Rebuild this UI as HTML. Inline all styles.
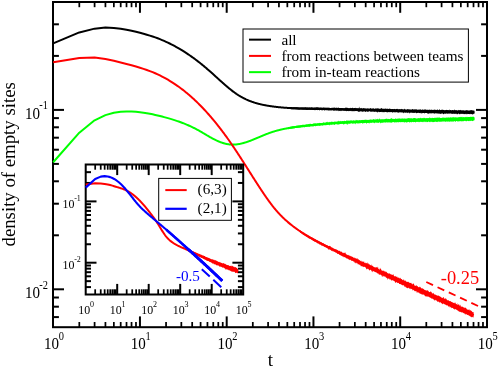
<!DOCTYPE html>
<html><head><meta charset="utf-8"><title>chart</title><style>html,body{margin:0;padding:0;background:#fff}body{width:498px;height:368px;overflow:hidden}</style></head><body>
<svg width="498" height="368" viewBox="0 0 498 368" style="display:block;will-change:transform;font-family:'Liberation Serif',serif">
<rect width="498" height="368" fill="#fff"/>
<defs><clipPath id="cm"><rect x="53.0" y="2.0" width="434.0" height="325.2"/></clipPath><clipPath id="ci"><rect x="85.7" y="164.5" width="157.5" height="130.0"/></clipPath></defs>
<rect x="53" y="2" width="434" height="325.2" fill="#fff" stroke="#000" stroke-width="2"/>
<line x1="79.31" y1="327.2" x2="79.31" y2="322" stroke="#000" stroke-width="1.74" />
<line x1="79.31" y1="2" x2="79.31" y2="7.2" stroke="#000" stroke-width="1.74" />
<line x1="94.59" y1="327.2" x2="94.59" y2="322" stroke="#000" stroke-width="1.74" />
<line x1="94.59" y1="2" x2="94.59" y2="7.2" stroke="#000" stroke-width="1.74" />
<line x1="105.43" y1="327.2" x2="105.43" y2="322" stroke="#000" stroke-width="1.74" />
<line x1="105.43" y1="2" x2="105.43" y2="7.2" stroke="#000" stroke-width="1.74" />
<line x1="113.84" y1="327.2" x2="113.84" y2="322" stroke="#000" stroke-width="1.74" />
<line x1="113.84" y1="2" x2="113.84" y2="7.2" stroke="#000" stroke-width="1.74" />
<line x1="120.7" y1="327.2" x2="120.7" y2="322" stroke="#000" stroke-width="1.74" />
<line x1="120.7" y1="2" x2="120.7" y2="7.2" stroke="#000" stroke-width="1.74" />
<line x1="126.51" y1="327.2" x2="126.51" y2="322" stroke="#000" stroke-width="1.74" />
<line x1="126.51" y1="2" x2="126.51" y2="7.2" stroke="#000" stroke-width="1.74" />
<line x1="131.54" y1="327.2" x2="131.54" y2="322" stroke="#000" stroke-width="1.74" />
<line x1="131.54" y1="2" x2="131.54" y2="7.2" stroke="#000" stroke-width="1.74" />
<line x1="135.98" y1="327.2" x2="135.98" y2="322" stroke="#000" stroke-width="1.74" />
<line x1="135.98" y1="2" x2="135.98" y2="7.2" stroke="#000" stroke-width="1.74" />
<line x1="139.95" y1="327.2" x2="139.95" y2="316.4" stroke="#000" stroke-width="2" />
<line x1="139.95" y1="2" x2="139.95" y2="12.8" stroke="#000" stroke-width="2" />
<line x1="166.06" y1="327.2" x2="166.06" y2="322" stroke="#000" stroke-width="1.74" />
<line x1="166.06" y1="2" x2="166.06" y2="7.2" stroke="#000" stroke-width="1.74" />
<line x1="181.34" y1="327.2" x2="181.34" y2="322" stroke="#000" stroke-width="1.74" />
<line x1="181.34" y1="2" x2="181.34" y2="7.2" stroke="#000" stroke-width="1.74" />
<line x1="192.18" y1="327.2" x2="192.18" y2="322" stroke="#000" stroke-width="1.74" />
<line x1="192.18" y1="2" x2="192.18" y2="7.2" stroke="#000" stroke-width="1.74" />
<line x1="200.59" y1="327.2" x2="200.59" y2="322" stroke="#000" stroke-width="1.74" />
<line x1="200.59" y1="2" x2="200.59" y2="7.2" stroke="#000" stroke-width="1.74" />
<line x1="207.45" y1="327.2" x2="207.45" y2="322" stroke="#000" stroke-width="1.74" />
<line x1="207.45" y1="2" x2="207.45" y2="7.2" stroke="#000" stroke-width="1.74" />
<line x1="213.26" y1="327.2" x2="213.26" y2="322" stroke="#000" stroke-width="1.74" />
<line x1="213.26" y1="2" x2="213.26" y2="7.2" stroke="#000" stroke-width="1.74" />
<line x1="218.29" y1="327.2" x2="218.29" y2="322" stroke="#000" stroke-width="1.74" />
<line x1="218.29" y1="2" x2="218.29" y2="7.2" stroke="#000" stroke-width="1.74" />
<line x1="222.73" y1="327.2" x2="222.73" y2="322" stroke="#000" stroke-width="1.74" />
<line x1="222.73" y1="2" x2="222.73" y2="7.2" stroke="#000" stroke-width="1.74" />
<line x1="226.7" y1="327.2" x2="226.7" y2="316.4" stroke="#000" stroke-width="2" />
<line x1="226.7" y1="2" x2="226.7" y2="12.8" stroke="#000" stroke-width="2" />
<line x1="252.81" y1="327.2" x2="252.81" y2="322" stroke="#000" stroke-width="1.74" />
<line x1="252.81" y1="2" x2="252.81" y2="7.2" stroke="#000" stroke-width="1.74" />
<line x1="268.09" y1="327.2" x2="268.09" y2="322" stroke="#000" stroke-width="1.74" />
<line x1="268.09" y1="2" x2="268.09" y2="7.2" stroke="#000" stroke-width="1.74" />
<line x1="278.93" y1="327.2" x2="278.93" y2="322" stroke="#000" stroke-width="1.74" />
<line x1="278.93" y1="2" x2="278.93" y2="7.2" stroke="#000" stroke-width="1.74" />
<line x1="287.34" y1="327.2" x2="287.34" y2="322" stroke="#000" stroke-width="1.74" />
<line x1="287.34" y1="2" x2="287.34" y2="7.2" stroke="#000" stroke-width="1.74" />
<line x1="294.2" y1="327.2" x2="294.2" y2="322" stroke="#000" stroke-width="1.74" />
<line x1="294.2" y1="2" x2="294.2" y2="7.2" stroke="#000" stroke-width="1.74" />
<line x1="300.01" y1="327.2" x2="300.01" y2="322" stroke="#000" stroke-width="1.74" />
<line x1="300.01" y1="2" x2="300.01" y2="7.2" stroke="#000" stroke-width="1.74" />
<line x1="305.04" y1="327.2" x2="305.04" y2="322" stroke="#000" stroke-width="1.74" />
<line x1="305.04" y1="2" x2="305.04" y2="7.2" stroke="#000" stroke-width="1.74" />
<line x1="309.48" y1="327.2" x2="309.48" y2="322" stroke="#000" stroke-width="1.74" />
<line x1="309.48" y1="2" x2="309.48" y2="7.2" stroke="#000" stroke-width="1.74" />
<line x1="313.45" y1="327.2" x2="313.45" y2="316.4" stroke="#000" stroke-width="2" />
<line x1="313.45" y1="2" x2="313.45" y2="12.8" stroke="#000" stroke-width="2" />
<line x1="339.56" y1="327.2" x2="339.56" y2="322" stroke="#000" stroke-width="1.74" />
<line x1="339.56" y1="2" x2="339.56" y2="7.2" stroke="#000" stroke-width="1.74" />
<line x1="354.84" y1="327.2" x2="354.84" y2="322" stroke="#000" stroke-width="1.74" />
<line x1="354.84" y1="2" x2="354.84" y2="7.2" stroke="#000" stroke-width="1.74" />
<line x1="365.68" y1="327.2" x2="365.68" y2="322" stroke="#000" stroke-width="1.74" />
<line x1="365.68" y1="2" x2="365.68" y2="7.2" stroke="#000" stroke-width="1.74" />
<line x1="374.09" y1="327.2" x2="374.09" y2="322" stroke="#000" stroke-width="1.74" />
<line x1="374.09" y1="2" x2="374.09" y2="7.2" stroke="#000" stroke-width="1.74" />
<line x1="380.95" y1="327.2" x2="380.95" y2="322" stroke="#000" stroke-width="1.74" />
<line x1="380.95" y1="2" x2="380.95" y2="7.2" stroke="#000" stroke-width="1.74" />
<line x1="386.76" y1="327.2" x2="386.76" y2="322" stroke="#000" stroke-width="1.74" />
<line x1="386.76" y1="2" x2="386.76" y2="7.2" stroke="#000" stroke-width="1.74" />
<line x1="391.79" y1="327.2" x2="391.79" y2="322" stroke="#000" stroke-width="1.74" />
<line x1="391.79" y1="2" x2="391.79" y2="7.2" stroke="#000" stroke-width="1.74" />
<line x1="396.23" y1="327.2" x2="396.23" y2="322" stroke="#000" stroke-width="1.74" />
<line x1="396.23" y1="2" x2="396.23" y2="7.2" stroke="#000" stroke-width="1.74" />
<line x1="400.2" y1="327.2" x2="400.2" y2="316.4" stroke="#000" stroke-width="2" />
<line x1="400.2" y1="2" x2="400.2" y2="12.8" stroke="#000" stroke-width="2" />
<line x1="426.31" y1="327.2" x2="426.31" y2="322" stroke="#000" stroke-width="1.74" />
<line x1="426.31" y1="2" x2="426.31" y2="7.2" stroke="#000" stroke-width="1.74" />
<line x1="441.59" y1="327.2" x2="441.59" y2="322" stroke="#000" stroke-width="1.74" />
<line x1="441.59" y1="2" x2="441.59" y2="7.2" stroke="#000" stroke-width="1.74" />
<line x1="452.43" y1="327.2" x2="452.43" y2="322" stroke="#000" stroke-width="1.74" />
<line x1="452.43" y1="2" x2="452.43" y2="7.2" stroke="#000" stroke-width="1.74" />
<line x1="460.84" y1="327.2" x2="460.84" y2="322" stroke="#000" stroke-width="1.74" />
<line x1="460.84" y1="2" x2="460.84" y2="7.2" stroke="#000" stroke-width="1.74" />
<line x1="467.7" y1="327.2" x2="467.7" y2="322" stroke="#000" stroke-width="1.74" />
<line x1="467.7" y1="2" x2="467.7" y2="7.2" stroke="#000" stroke-width="1.74" />
<line x1="473.51" y1="327.2" x2="473.51" y2="322" stroke="#000" stroke-width="1.74" />
<line x1="473.51" y1="2" x2="473.51" y2="7.2" stroke="#000" stroke-width="1.74" />
<line x1="478.54" y1="327.2" x2="478.54" y2="322" stroke="#000" stroke-width="1.74" />
<line x1="478.54" y1="2" x2="478.54" y2="7.2" stroke="#000" stroke-width="1.74" />
<line x1="482.98" y1="327.2" x2="482.98" y2="322" stroke="#000" stroke-width="1.74" />
<line x1="482.98" y1="2" x2="482.98" y2="7.2" stroke="#000" stroke-width="1.74" />
<line x1="53" y1="317.09" x2="58.9" y2="317.09" stroke="#000" stroke-width="2" />
<line x1="487" y1="317.09" x2="481.1" y2="317.09" stroke="#000" stroke-width="2" />
<line x1="53" y1="306.69" x2="58.9" y2="306.69" stroke="#000" stroke-width="2" />
<line x1="487" y1="306.69" x2="481.1" y2="306.69" stroke="#000" stroke-width="2" />
<line x1="53" y1="297.51" x2="58.9" y2="297.51" stroke="#000" stroke-width="2" />
<line x1="487" y1="297.51" x2="481.1" y2="297.51" stroke="#000" stroke-width="2" />
<line x1="53" y1="289.3" x2="64" y2="289.3" stroke="#000" stroke-width="2" />
<line x1="487" y1="289.3" x2="476" y2="289.3" stroke="#000" stroke-width="2" />
<line x1="53" y1="235.3" x2="58.9" y2="235.3" stroke="#000" stroke-width="2" />
<line x1="487" y1="235.3" x2="481.1" y2="235.3" stroke="#000" stroke-width="2" />
<line x1="53" y1="203.7" x2="58.9" y2="203.7" stroke="#000" stroke-width="2" />
<line x1="487" y1="203.7" x2="481.1" y2="203.7" stroke="#000" stroke-width="2" />
<line x1="53" y1="181.29" x2="58.9" y2="181.29" stroke="#000" stroke-width="2" />
<line x1="487" y1="181.29" x2="481.1" y2="181.29" stroke="#000" stroke-width="2" />
<line x1="53" y1="163.9" x2="58.9" y2="163.9" stroke="#000" stroke-width="2" />
<line x1="487" y1="163.9" x2="481.1" y2="163.9" stroke="#000" stroke-width="2" />
<line x1="53" y1="149.7" x2="58.9" y2="149.7" stroke="#000" stroke-width="2" />
<line x1="487" y1="149.7" x2="481.1" y2="149.7" stroke="#000" stroke-width="2" />
<line x1="53" y1="137.69" x2="58.9" y2="137.69" stroke="#000" stroke-width="2" />
<line x1="487" y1="137.69" x2="481.1" y2="137.69" stroke="#000" stroke-width="2" />
<line x1="53" y1="127.29" x2="58.9" y2="127.29" stroke="#000" stroke-width="2" />
<line x1="487" y1="127.29" x2="481.1" y2="127.29" stroke="#000" stroke-width="2" />
<line x1="53" y1="118.11" x2="58.9" y2="118.11" stroke="#000" stroke-width="2" />
<line x1="487" y1="118.11" x2="481.1" y2="118.11" stroke="#000" stroke-width="2" />
<line x1="53" y1="109.9" x2="64" y2="109.9" stroke="#000" stroke-width="2" />
<line x1="487" y1="109.9" x2="476" y2="109.9" stroke="#000" stroke-width="2" />
<line x1="53" y1="55.9" x2="58.9" y2="55.9" stroke="#000" stroke-width="2" />
<line x1="487" y1="55.9" x2="481.1" y2="55.9" stroke="#000" stroke-width="2" />
<line x1="53" y1="24.3" x2="58.9" y2="24.3" stroke="#000" stroke-width="2" />
<line x1="487" y1="24.3" x2="481.1" y2="24.3" stroke="#000" stroke-width="2" />
<path d="M53.2,162.27 L79.31,132.66 L94.59,120.28 L105.43,115.1 L113.84,112.84 L120.7,111.85 L126.51,111.51 L131.54,111.54 L135.98,111.81 L139.95,112.2 L143.54,112.69 L146.82,113.22 L149.83,113.78 L152.63,114.34 L155.23,114.92 L157.66,115.48 L159.94,116.04 L162.09,116.59 L164.13,117.12 L166.06,117.64 L167.9,118.15 L169.66,118.65 L171.33,119.15 L172.93,119.64 L174.47,120.12 L175.95,120.6 L177.37,121.08 L178.74,121.55 L180.06,122.02 L181.34,122.49 L182.58,122.96 L183.77,123.42 L184.93,123.89 L186.06,124.35 L187.15,124.81 L188.21,125.27 L189.24,125.72 L190.25,126.18 L191.22,126.63 L192.18,127.09 L193.11,127.54 L194.02,127.99 L194.9,128.44 L195.77,128.89 L196.62,129.34 L197.44,129.78 L198.25,130.23 L199.05,130.67 L199.82,131.11 L200.59,131.55 L201.33,131.98 L202.06,132.41 L202.78,132.84 L203.49,133.25 L204.18,133.67 L204.86,134.07 L205.52,134.47 L206.18,134.86 L206.82,135.24 L207.45,135.61 L208.08,135.98 L208.69,136.34 L209.29,136.69 L209.89,137.03 L210.47,137.36 L211.05,137.68 L211.61,137.99 L212.17,138.3 L212.72,138.6 L213.26,138.88 L213.8,139.16 L214.32,139.43 L214.84,139.69 L215.36,139.95 L215.86,140.19 L216.36,140.43 L216.85,140.65 L217.34,140.87 L217.82,141.09 L218.29,141.29 L218.76,141.49 L219.22,141.68 L219.68,141.86 L220.13,142.04 L220.58,142.2 L221.02,142.37 L221.45,142.52 L221.88,142.67 L222.31,142.81 L222.73,142.95 L223.15,143.08 L223.56,143.2 L223.97,143.32 L224.37,143.43 L224.77,143.53 L225.16,143.63 L225.55,143.73 L225.94,143.82 L226.32,143.9 L226.7,143.98 L227.07,144.05 L227.45,144.12 L227.81,144.19 L228.18,144.24 L228.54,144.3 L228.9,144.35 L229.25,144.39 L229.6,144.43 L229.95,144.47 L230.29,144.5 L230.63,144.53 L230.97,144.55 L231.3,144.57 L231.64,144.58 L231.97,144.59 L232.29,144.6 L232.62,144.6 L232.94,144.6 L233.25,144.6 L233.57,144.59 L233.88,144.58 L234.19,144.57 L234.5,144.56 L234.8,144.54 L235.11,144.52 L235.41,144.5 L235.71,144.47 L236.01,144.44 L236.31,144.41 L236.61,144.38 L236.91,144.34 L237.21,144.31 L237.51,144.27 L237.81,144.22 L238.11,144.18 L238.41,144.13 L238.71,144.08 L239.01,144.03 L239.31,143.98 L239.61,143.92 L239.91,143.86 L240.21,143.8 L240.51,143.74 L240.81,143.67 L241.11,143.61 L241.41,143.54 L241.71,143.47 L242.01,143.39 L242.31,143.32 L242.61,143.24 L242.91,143.16 L243.21,143.08 L243.51,143 L243.81,142.92 L244.11,142.83 L244.41,142.75 L244.71,142.66 L245.01,142.57 L245.31,142.48 L245.61,142.38 L245.91,142.29 L246.21,142.19 L246.51,142.1 L246.81,142 L247.11,141.9 L247.41,141.79 L247.71,141.69 L248.01,141.59 L248.31,141.48 L248.61,141.38 L248.91,141.27 L249.21,141.16 L249.51,141.05 L249.81,140.94 L250.11,140.83 L250.41,140.71 L250.71,140.6 L251.01,140.48 L251.31,140.37 L251.61,140.25 L251.91,140.13 L252.21,140.02 L252.51,139.9 L252.81,139.78 L253.11,139.66 L253.41,139.53 L253.71,139.41 L254.01,139.29 L254.31,139.17 L254.61,139.04 L254.91,138.92 L255.21,138.8 L255.51,138.67 L255.81,138.54 L256.11,138.42 L256.41,138.29 L256.71,138.17 L257.01,138.04 L257.31,137.91 L257.61,137.79 L257.91,137.66 L258.21,137.53 L258.51,137.4 L258.81,137.28 L259.11,137.15 L259.41,137.02 L259.71,136.89 L260.01,136.77 L260.31,136.64 L260.61,136.51 L260.91,136.38 L261.21,136.26 L261.51,136.13 L261.81,136 L262.11,135.88 L262.41,135.75 L262.71,135.63 L263.01,135.5 L263.31,135.38 L263.61,135.25 L263.91,135.13 L264.21,135.01 L264.51,134.88 L264.81,134.76 L265.11,134.64 L265.41,134.52 L265.71,134.4 L266.01,134.28 L266.31,134.16 L266.61,134.04 L266.91,133.93 L267.21,133.81 L267.51,133.69 L267.81,133.58 L268.11,133.47 L268.41,133.35 L268.71,133.24 L269.01,133.13 L269.31,133.02 L269.61,132.91 L269.91,132.81 L270.21,132.7 L270.51,132.6 L270.81,132.49 L271.11,132.39 L271.41,132.29 L271.71,132.19 L272.01,132.09 L272.31,131.99 L272.61,131.9 L272.91,131.8 L273.21,131.71 L273.51,131.61 L273.81,131.52 L274.11,131.43 L274.41,131.34 L274.71,131.25 L275.01,131.16 L275.31,131.07 L275.61,130.99 L275.91,130.9 L276.21,130.82 L276.51,130.73 L276.81,130.65 L277.11,130.57 L277.41,130.49 L277.71,130.41 L278.01,130.33 L278.31,130.25 L278.61,130.18 L278.91,130.1 L279.21,130.02 L279.51,129.95 L279.81,129.88 L280.11,129.8 L280.41,129.73 L280.71,129.66 L281.01,129.59 L281.31,129.52 L281.61,129.45 L281.91,129.39 L282.21,129.32 L282.51,129.25 L282.81,129.19 L283.11,129.12 L283.41,129.06 L283.71,129 L284.01,128.93 L284.31,128.87 L284.61,128.81 L284.91,128.75 L285.21,128.69 L285.51,128.63 L285.81,128.58 L286.11,128.52 L286.41,128.46 L286.71,128.41 L287.01,128.35 L287.31,128.3 L287.61,128.24 L287.91,128.19 L288.21,128.14 L288.51,128.08 L288.81,128.03 L289.11,127.98 L289.41,127.93 L289.71,127.88 L290.01,127.83 L290.31,127.78 L290.61,127.73 L290.91,127.69 L291.21,127.64 L291.51,127.59 L291.81,127.54 L292.11,127.5 L292.41,127.45 L292.71,127.41 L293.01,127.36 L293.31,127.32 L293.61,127.28 L293.91,127.23 L294.21,127.19 L294.51,127.15 L294.81,127.11 L295.11,127.06 L295.41,127.02 L295.71,126.98 L296.01,126.94 L296.31,126.9 L296.61,126.86 L296.91,126.82 L297.21,126.78 L297.51,126.74 L297.81,126.71 L298.11,126.67 L298.41,126.63 L298.71,126.59 L299.01,126.55 L299.31,126.52 L299.61,126.48 L299.91,126.44 L300.21,126.41 L300.51,126.37 L300.81,126.33 L301.11,126.3 L301.41,126.26 L301.71,126.23 L302.01,126.19 L302.31,126.16 L302.61,126.12 L302.91,126.09 L303.21,126.05 L303.51,126.02 L303.81,125.98 L304.11,125.95 L304.41,125.91 L304.71,125.88 L305.01,125.85 L305.31,125.81 L305.61,125.78 L305.91,125.75 L306.21,125.71 L306.51,125.68 L306.81,125.65 L307.11,125.61 L307.41,125.58 L307.71,125.55 L308.01,125.52 L308.31,125.48 L308.61,125.45 L308.91,125.42 L309.21,125.39 L309.51,125.36 L309.81,125.32 L310.11,125.29 L310.41,125.26 L310.71,125.23 L311.01,125.2 L311.31,125.17 L311.61,125.14 L311.91,125.11 L312.21,125.08 L312.51,125.05 L312.81,125.02 L313.11,124.99 L313.41,124.96 L313.71,124.93 L314.01,124.9 L314.31,124.87 L314.61,124.84 L314.91,124.81 L315.21,124.78 L315.51,124.75 L315.81,124.72 L316.11,124.69 L316.41,124.66 L316.71,124.63 L317.01,124.61 L317.31,124.58 L317.61,124.55 L317.91,124.52 L318.21,124.49 L318.51,124.46 L318.81,124.44 L319.11,124.41 L319.41,124.38 L319.71,124.35 L320.01,124.33 L320.31,124.3 L320.61,124.27 L320.91,124.25 L321.21,124.22 L321.51,124.19 L321.81,124.17 L322.11,124.14 L322.41,124.11 L322.71,124.09 L323.01,124.06 L323.31,124.04 L323.61,124.01 L323.91,123.99 L324.21,123.96 L324.51,123.93 L324.81,123.91 L325.11,123.88 L325.41,123.86 L325.71,123.83 L326.01,123.81 L326.31,123.79 L326.61,123.76 L326.91,123.74 L327.21,123.71 L327.51,123.69 L327.81,123.66 L328.11,123.64 L328.41,123.62 L328.71,123.59 L329.01,123.57 L329.31,123.54 L329.61,123.52 L329.91,123.5 L330.21,123.48 L330.51,123.45 L330.81,123.43 L331.11,123.41 L331.41,123.38 L331.71,123.36 L332.01,123.34 L332.31,123.32 L332.61,123.29 L332.91,123.27 L333.21,123.25 L333.51,123.23 L333.81,123.21 L334.11,123.18 L334.41,123.16 L334.71,123.14 L335.01,123.12 L335.31,123.1 L335.61,123.08 L335.91,123.06 L336.21,123.04 L336.51,123.01 L336.81,122.99 L337.11,122.97 L337.41,122.95 L337.71,122.93 L338.01,122.91 L338.31,122.89 L338.61,122.87 L338.91,122.85 L339.21,122.83 L339.51,122.81 L339.81,122.79 L340.11,122.77 L340.41,122.75 L340.71,122.73 L341.01,122.71 L341.31,122.69 L341.61,122.68 L341.91,122.66 L342.21,122.64 L342.51,122.62 L342.81,122.6 L343.11,122.58 L343.41,122.56 L343.71,122.54 L344.01,122.53 L344.31,122.51 L344.61,122.49 L344.91,122.47 L345.21,122.45 L345.51,122.44 L345.81,122.42 L346.11,122.4 L346.41,122.38 L346.71,122.37 L347.01,122.35 L347.31,122.33 L347.61,122.31 L347.91,122.3 L348.21,122.28 L348.51,122.26 L348.81,122.25 L349.11,122.23 L349.41,122.21 L349.71,122.2 L350.01,122.18 L350.31,122.16 L350.61,122.15 L350.91,122.13 L351.21,122.11 L351.51,122.1 L351.81,122.08 L352.11,122.07 L352.41,122.05 L352.71,122.03 L353.01,122.02 L353.31,122 L353.61,121.99 L353.91,121.97 L354.21,121.96 L354.51,121.94 L354.81,121.93 L355.11,121.91 L355.41,121.9 L355.71,121.88 L356.01,121.87 L356.31,121.85 L356.61,121.84 L356.91,121.82 L357.21,121.81 L357.51,121.79 L357.81,121.78 L358.11,121.77 L358.41,121.75 L358.71,121.74 L359.01,121.72 L359.31,121.71 L359.61,121.7 L359.91,121.68 L360.21,121.67 L360.51,121.65 L360.81,121.64 L361.11,121.63 L361.41,121.61 L361.71,121.6 L362.01,121.59 L362.31,121.57 L362.61,121.56 L362.91,121.55 L363.21,121.54 L363.51,121.52 L363.81,121.51 L364.11,121.5 L364.41,121.48 L364.71,121.47 L365.01,121.46 L365.31,121.45 L365.61,121.44 L365.91,121.42 L366.21,121.41 L366.51,121.4 L366.81,121.39 L367.11,121.37 L367.41,121.36 L367.71,121.35 L368.01,121.34 L368.31,121.33 L368.61,121.32 L368.91,121.3 L369.21,121.29 L369.51,121.28 L369.81,121.27 L370.11,121.26 L370.41,121.25 L370.71,121.24 L371.01,121.22 L371.31,121.21 L371.61,121.2 L371.91,121.19 L372.21,121.18 L372.51,121.17 L372.81,121.16 L373.11,121.15 L373.41,121.14 L373.71,121.13 L374.01,121.12 L374.31,121.11 L374.61,121.1 L374.91,121.09 L375.21,121.08 L375.51,121.07 L375.81,121.06 L376.11,121.05 L376.41,121.04 L376.71,121.03 L377.01,121.02 L377.31,121.01 L377.61,121 L377.91,120.99 L378.21,120.98 L378.51,120.97 L378.81,120.96 L379.11,120.95 L379.41,120.94 L379.71,120.93 L380.01,120.92 L380.31,120.91 L380.61,120.9 L380.91,120.89 L381.21,120.88 L381.51,120.87 L381.81,120.86 L382.11,120.86 L382.41,120.85 L382.71,120.84 L383.01,120.83 L383.31,120.82 L383.61,120.81 L383.91,120.8 L384.21,120.79 L384.51,120.79 L384.81,120.78 L385.11,120.77 L385.41,120.76 L385.71,120.75 L386.01,120.74 L386.31,120.73 L386.61,120.73 L386.91,120.72 L387.21,120.71 L387.51,120.7 L387.81,120.69 L388.11,120.69 L388.41,120.68 L388.71,120.67 L389.01,120.66 L389.31,120.65 L389.61,120.65 L389.91,120.64 L390.21,120.63 L390.51,120.62 L390.81,120.62 L391.11,120.61 L391.41,120.6 L391.71,120.59 L392.01,120.59 L392.31,120.58 L392.61,120.57 L392.91,120.56 L393.21,120.56 L393.51,120.55 L393.81,120.54 L394.11,120.53 L394.41,120.53 L394.71,120.52 L395.01,120.51 L395.31,120.51 L395.61,120.5 L395.91,120.49 L396.21,120.48 L396.51,120.48 L396.81,120.47 L397.11,120.46 L397.41,120.46 L397.71,120.45 L398.01,120.44 L398.31,120.44 L398.61,120.43 L398.91,120.42 L399.21,120.42 L399.51,120.41 L399.81,120.4 L400.11,120.4 L400.41,120.39 L400.71,120.38 L401.01,120.38 L401.31,120.37 L401.61,120.36 L401.91,120.36 L402.21,120.35 L402.51,120.35 L402.81,120.34 L403.11,120.33 L403.41,120.33 L403.71,120.32 L404.01,120.31 L404.31,120.31 L404.61,120.3 L404.91,120.3 L405.21,120.29 L405.51,120.28 L405.81,120.28 L406.11,120.27 L406.41,120.27 L406.71,120.26 L407.01,120.25 L407.31,120.25 L407.61,120.24 L407.91,120.24 L408.21,120.23 L408.51,120.22 L408.81,120.22 L409.11,120.21 L409.41,120.21 L409.71,120.2 L410.01,120.19 L410.31,120.19 L410.61,120.18 L410.91,120.18 L411.21,120.17 L411.51,120.17 L411.81,120.16 L412.11,120.16 L412.41,120.15 L412.71,120.14 L413.01,120.14 L413.31,120.13 L413.61,120.13 L413.91,120.12 L414.21,120.12 L414.51,120.11 L414.81,120.1 L415.11,120.1 L415.41,120.09 L415.71,120.09 L416.01,120.08 L416.31,120.08 L416.61,120.07 L416.91,120.07 L417.21,120.06 L417.51,120.06 L417.81,120.05 L418.11,120.04 L418.41,120.04 L418.71,120.03 L419.01,120.03 L419.31,120.02 L419.61,120.02 L419.91,120.01 L420.21,120.01 L420.51,120 L420.81,120 L421.11,119.99 L421.41,119.99 L421.71,119.98 L422.01,119.98 L422.31,119.97 L422.61,119.96 L422.91,119.96 L423.21,119.95 L423.51,119.95 L423.81,119.94 L424.11,119.94 L424.41,119.93 L424.71,119.93 L425.01,119.92 L425.31,119.92 L425.61,119.91 L425.91,119.91 L426.21,119.9 L426.51,119.9 L426.81,119.89 L427.11,119.89 L427.41,119.88 L427.71,119.87 L428.01,119.87 L428.31,119.86 L428.61,119.86 L428.91,119.85 L429.21,119.85 L429.51,119.84 L429.81,119.84 L430.11,119.83 L430.41,119.83 L430.71,119.82 L431.01,119.82 L431.31,119.81 L431.61,119.81 L431.91,119.8 L432.21,119.79 L432.51,119.79 L432.81,119.78 L433.11,119.78 L433.41,119.77 L433.71,119.77 L434.01,119.76 L434.31,119.76 L434.61,119.75 L434.91,119.75 L435.21,119.74 L435.51,119.73 L435.81,119.73 L436.11,119.72 L436.41,119.72 L436.71,119.71 L437.01,119.71 L437.31,119.7 L437.61,119.7 L437.91,119.69 L438.21,119.68 L438.51,119.68 L438.81,119.67 L439.11,119.67 L439.41,119.66 L439.71,119.66 L440.01,119.65 L440.31,119.64 L440.61,119.64 L440.91,119.63 L441.21,119.63 L441.51,119.62 L441.81,119.62 L442.11,119.61 L442.41,119.6 L442.71,119.6 L443.01,119.59 L443.31,119.59 L443.61,119.58 L443.91,119.57 L444.21,119.57 L444.51,119.56 L444.81,119.56 L445.11,119.55 L445.41,119.54 L445.71,119.54 L446.01,119.53 L446.31,119.53 L446.61,119.52 L446.91,119.51 L447.21,119.51 L447.51,119.5 L447.81,119.49 L448.11,119.49 L448.41,119.48 L448.71,119.48 L449.01,119.47 L449.31,119.46 L449.61,119.46 L449.91,119.45 L450.21,119.44 L450.51,119.44 L450.81,119.43 L451.11,119.42 L451.41,119.42 L451.71,119.41 L452.01,119.4 L452.31,119.4 L452.61,119.39 L452.91,119.38 L453.21,119.38 L453.51,119.37 L453.81,119.36 L454.11,119.36 L454.41,119.35 L454.71,119.34 L455.01,119.34 L455.31,119.33 L455.61,119.32 L455.91,119.31 L456.21,119.31 L456.51,119.3 L456.81,119.29 L457.11,119.28 L457.41,119.28 L457.71,119.27 L458.01,119.26 L458.31,119.26 L458.61,119.25 L458.91,119.24 L459.21,119.23 L459.51,119.23 L459.81,119.22 L460.11,119.21 L460.41,119.2 L460.71,119.19 L461.01,119.19 L461.31,119.18 L461.61,119.17 L461.91,119.16 L462.21,119.16 L462.51,119.15 L462.81,119.14 L463.11,119.13 L463.41,119.12 L463.71,119.11 L464.01,119.11 L464.31,119.1 L464.61,119.09 L464.91,119.08 L465.21,119.07 L465.51,119.06 L465.81,119.06 L466.11,119.05 L466.41,119.04 L466.71,119.03 L467.01,119.02 L467.31,119.01 L467.61,119 L467.91,118.99 L468.21,118.99 L468.51,118.98 L468.81,118.97 L469.11,118.96 L469.41,118.95 L469.71,118.94 L470.01,118.93 L470.31,118.92 L470.61,118.91 L470.91,118.9 L471.21,118.89 L471.51,118.88 L471.81,118.88 L472.11,118.87 L472.41,118.86 L472.71,118.85 L473.01,118.84 L473.31,118.83 L473.61,118.82 L473.91,118.81 L474.21,118.8 L474.4,118.79" fill="none" stroke="#00ff00" stroke-width="2" stroke-linejoin="round" stroke-linecap="butt"/>
<path d="M288,127.21 L288.4,127.14 L288.8,127.07 L289.2,126.98 L289.6,126.9 L290,126.85 L290.4,126.78 L290.8,126.72 L291.2,126.65 L291.6,126.58 L292,126.5 L292.4,126.36 L292.8,126.28 L293.2,126.33 L293.6,126.26 L294,126.2 L294.4,126.14 L294.8,126.08 L295.2,126.02 L295.6,125.96 L296,125.78 L296.4,125.68 L296.8,125.79 L297.2,125.67 L297.6,125.57 L298,125.62 L298.4,125.57 L298.8,125.51 L299.2,125.46 L299.6,125.41 L300,125.36 L300.4,125.3 L300.8,125.14 L301.2,125.11 L301.6,125.15 L302,125.06 L302.4,124.86 L302.8,124.74 L303.2,124.95 L303.6,124.39 L304,124.67 L304.4,124.81 L304.8,124.76 L305.2,124.71 L305.6,124.67 L306,124.62 L306.4,124.33 L306.8,124.53 L307.2,124.48 L307.6,124.43 L308,124.37 L308.4,124.34 L308.8,124.12 L309.2,124.23 L309.6,123.92 L310,123.54 L310.4,124.12 L310.8,123.78 L311.2,124.03 L311.6,123.99 L312,123.94 L312.4,123.9 L312.8,123.86 L313.2,123.54 L313.6,123.3 L314,123.72 L314.4,123.54 L314.8,123.33 L315.2,123.61 L315.6,123.23 L316,123.53 L316.4,123.45 L316.8,123.44 L317.2,123.4 L317.6,123.25 L318,123.33 L318.4,123.29 L318.8,123.25 L319.2,123.21 L319.6,122.81 L320,122.99 L320.4,123.09 L320.8,123.06 L321.2,122.89 L321.6,122.98 L322,122.94 L322.4,122.91 L322.8,122.73 L323.2,122.18 L323.6,122.44 L324,122.51 L324.4,122.73 L324.8,122.52 L325.2,122.65 L325.6,122.6 L326,122.58 L326.4,121.85 L326.8,122.43 L327.2,121.61 L327.6,122.3 L328,122.41 L328.4,122.38 L328.8,122.26 L329.2,122.2 L329.6,122.28 L330,121.53 L330.4,122.22 L330.8,122.18 L331.2,121.75 L331.6,121.45 L332,122.09 L332.4,122.06 L332.8,121.44 L333.2,121.99 L333.6,121.83 L334,121.93 L334.4,121.9 L334.8,121.11 L335.2,121.76 L335.6,121.81 L336,121.35 L336.4,121.75 L336.8,121.72 L337.2,121.32 L337.6,121.67 L338,120.85 L338.4,120.71 L338.8,121.45 L339.2,121.15 L339.6,121.36 L340,121.5 L340.4,121.35 L340.8,120.8 L341.2,121.36 L341.6,121.39 L342,120.82 L342.4,121.34 L342.8,120.9 L343.2,121.09 L343.6,121.26 L344,121.23 L344.4,120.87 L344.8,120.75 L345.2,121.16 L345.6,120.95 L346,121.11 L346.4,120.33 L346.8,120.71 L347.2,119.94 L347.6,121.01 L348,120.67 L348.4,120.96 L348.8,120.01 L349.2,120.91 L349.6,120.31 L350,120.87 L350.4,120.26 L350.8,120.44 L351.2,120.31 L351.6,120.72 L352,119.94 L352.4,120.73 L352.8,120.71 L353.2,120.12 L353.6,120.52 L354,120.52 L354.4,120.53 L354.8,120.46 L355.2,120.46 L355.6,120.55 L356,119.42 L356.4,120.51 L356.8,120.12 L357.2,120.4 L357.6,120.33 L358,119.95 L358.4,120.41 L358.8,120.39 L359.2,120.19 L359.6,119.99 L360,120.33 L360.4,120.31 L360.8,120.29 L361.2,120.11 L361.6,120.25 L362,119.82 L362.4,120.1 L362.8,120.09 L363.2,119.89 L363.6,120.05 L364,119.85 L364.4,119.72 L364.8,119.89 L365.2,119.85 L365.6,119.42 L366,120.03 L366.4,119.55 L366.8,119.92 L367.2,120 L367.6,119.79 L368,119.97 L368.4,119.76 L368.8,119.9 L369.2,119.85 L369.6,119.73 L370,119.47 L370.4,119.28 L370.8,119.85 L371.2,119.84 L371.6,119.41 L372,119.54 L372.4,119.42 L372.8,119.69 L373.2,119.37 L373.6,119.12 L374,119.3 L374.4,119.71 L374.8,119.3 L375.2,118.58 L375.6,119.65 L376,119.65 L376.4,119.29 L376.8,118.89 L377.2,119.19 L377.6,118.62 L378,119.41 L378.4,119.57 L378.8,118.98 L379.2,118.2 L379.6,118.82 L380,119.44 L380.4,119.31 L380.8,119.15 L381.2,119.47 L381.6,118.88 L382,119.42 L382.4,118.92 L382.8,119.39 L383.2,119.36 L383.6,119.4 L384,118.92 L384.4,119.3 L384.8,119.27 L385.2,119.11 L385.6,118.77 L386,119.06 L386.4,118.87 L386.8,118.42 L387.2,118.79 L387.6,118.99 L388,119.24 L388.4,118.71 L388.8,119.04 L389.2,119.21 L389.6,118.95 L390,118.89 L390.4,119.06 L390.8,118.22 L391.2,118.56 L391.6,118.31 L392,118 L392.4,118.96 L392.8,119.01 L393.2,118.92 L393.6,118.68 L394,119.06 L394.4,119.08 L394.8,119.03 L395.2,118.09 L395.6,118.97 L396,118.6 L396.4,118.75 L396.8,118.9 L397.2,118.68 L397.6,118.54 L398,118.74 L398.4,118.51 L398.8,118.38 L399.2,118.39 L399.6,118.25 L400,118.87 L400.4,118.84 L400.8,118.51 L401.2,118.23 L401.6,118.8 L402,118.63 L402.4,118.7 L402.8,118.02 L403.2,118.43 L403.6,118.84 L404,118.41 L404.4,118.36 L404.8,118.79 L405.2,118.72 L405.6,118.41 L406,118.61 L406.4,118.67 L406.8,118.49 L407.2,117.95 L407.6,118.74 L408,118.05 L408.4,118.34 L408.8,118.06 L409.2,118.17 L409.6,118.12 L410,118.6 L410.4,118.01 L410.8,118.39 L411.2,118.11 L411.6,118.51 L412,118.36 L412.4,118.5 L412.8,118.52 L413.2,118.35 L413.6,118.1 L414,118.07 L414.4,118.08 L414.8,117.99 L415.2,118.3 L415.6,117.9 L416,118.52 L416.4,118.43 L416.8,118.39 L417.2,118.15 L417.6,118.39 L418,118.13 L418.4,117.88 L418.8,118.23 L419.2,118.42 L419.6,118.09 L420,118.02 L420.4,118.34 L420.8,117.38 L421.2,118.18 L421.6,118.27 L422,118.02 L422.4,118.37 L422.8,117.91 L423.2,118.22 L423.6,117.92 L424,117.52 L424.4,118.21 L424.8,117.86 L425.2,118.29 L425.6,118.2 L426,118.07 L426.4,118.02 L426.8,118.15 L427.2,117.95 L427.6,118.27 L428,118 L428.4,118.05 L428.8,118.18 L429.2,118.28 L429.6,117.06 L430,117.99 L430.4,117.68 L430.8,118.26 L431.2,118.22 L431.6,117.95 L432,117.87 L432.4,117.7 L432.8,118.1 L433.2,117.97 L433.6,117.99 L434,118 L434.4,117.96 L434.8,117.59 L435.2,118.01 L435.6,117.72 L436,117.52 L436.4,118.1 L436.8,117.51 L437.2,117.64 L437.6,117.52 L438,117.44 L438.4,117.76 L438.8,117.58 L439.2,117.86 L439.6,117.36 L440,117.66 L440.4,118.04 L440.8,117.99 L441.2,118.03 L441.6,117.98 L442,117.82 L442.4,118.02 L442.8,117.34 L443.2,117.29 L443.6,117.9 L444,117.61 L444.4,117.91 L444.8,117.62 L445.2,117.95 L445.6,117.63 L446,117.28 L446.4,117.47 L446.8,117.68 L447.2,117.66 L447.6,117.84 L448,116.81 L448.4,117.58 L448.8,117.79 L449.2,117.22 L449.6,117.74 L450,117.75 L450.4,117.25 L450.8,117.24 L451.2,117.07 L451.6,117.8 L452,117.71 L452.4,117.12 L452.8,117.41 L453.2,116.65 L453.6,117.46 L454,117.23 L454.4,117.51 L454.8,117.32 L455.2,117.17 L455.6,117.2 L456,117.61 L456.4,117.57 L456.8,117.31 L457.2,117.49 L457.6,117.49 L458,117.33 L458.4,117.1 L458.8,117.59 L459.2,117.31 L459.6,117.06 L460,117.07 L460.4,117.37 L460.8,116.81 L461.2,117 L461.6,116.87 L462,117.44 L462.4,117.34 L462.8,116.69 L463.2,116.88 L463.6,117.19 L464,117.09 L464.4,117.35 L464.8,117.29 L465.2,116.74 L465.6,117.26 L466,116.93 L466.4,116.86 L466.8,117.22 L467.2,117.22 L467.6,116.8 L468,116.93 L468.4,117.09 L468.8,117.06 L469.2,117.02 L469.6,117.02 L470,117.02 L470.4,116.55 L470.8,117.09 L471.2,117.04 L471.6,116.96 L472,116.36 L472.4,117.04 L472.8,116.85 L473.2,116.63 L473.6,116.64 L474,116.77 L474.4,117.27 L474.4,120.17 L474,120.47 L473.6,120.67 L473.2,120.59 L472.8,121.14 L472.4,120.96 L472,120.98 L471.6,120.62 L471.2,120.97 L470.8,120.76 L470.4,121.08 L470,121.17 L469.6,120.91 L469.2,120.74 L468.8,120.91 L468.4,121.17 L468,120.83 L467.6,120.82 L467.2,120.89 L466.8,120.91 L466.4,121.55 L466,120.99 L465.6,121.16 L465.2,120.79 L464.8,120.87 L464.4,121.06 L464,121.05 L463.6,121.31 L463.2,121.29 L462.8,121.32 L462.4,121.15 L462,121.2 L461.6,121.03 L461.2,121.79 L460.8,120.95 L460.4,121.04 L460,121.68 L459.6,121.08 L459.2,121.25 L458.8,121.4 L458.4,121.26 L458,121.38 L457.6,121.16 L457.2,121.56 L456.8,121.08 L456.4,121.11 L456,121.37 L455.6,121.78 L455.2,121.66 L454.8,121.07 L454.4,121.33 L454,121.5 L453.6,121.56 L453.2,121.39 L452.8,122.04 L452.4,121.25 L452,121.25 L451.6,121.59 L451.2,121.67 L450.8,121.71 L450.4,121.26 L450,121.45 L449.6,121.58 L449.2,122.06 L448.8,121.61 L448.4,121.56 L448,121.58 L447.6,121.42 L447.2,121.63 L446.8,121.4 L446.4,121.59 L446,121.39 L445.6,121.89 L445.2,121.53 L444.8,121.73 L444.4,121.29 L444,121.38 L443.6,121.58 L443.2,121.43 L442.8,121.75 L442.4,121.34 L442,121.72 L441.6,121.63 L441.2,121.51 L440.8,121.9 L440.4,121.47 L440,121.85 L439.6,121.54 L439.2,122.11 L438.8,121.69 L438.4,121.62 L438,121.39 L437.6,122.35 L437.2,121.66 L436.8,121.8 L436.4,122 L436,121.99 L435.6,121.46 L435.2,121.78 L434.8,121.91 L434.4,121.77 L434,121.9 L433.6,121.94 L433.2,122.19 L432.8,121.74 L432.4,122.2 L432,121.97 L431.6,121.9 L431.2,121.58 L430.8,121.77 L430.4,121.83 L430,122.47 L429.6,121.75 L429.2,121.9 L428.8,121.85 L428.4,121.6 L428,121.81 L427.6,122.33 L427.2,121.9 L426.8,121.81 L426.4,121.82 L426,122.59 L425.6,121.58 L425.2,121.88 L424.8,121.84 L424.4,121.6 L424,122.55 L423.6,121.69 L423.2,121.73 L422.8,121.87 L422.4,122.17 L422,121.93 L421.6,121.72 L421.2,122.01 L420.8,121.64 L420.4,121.68 L420,122.26 L419.6,121.66 L419.2,122.19 L418.8,122.19 L418.4,121.7 L418,122.12 L417.6,121.8 L417.2,122.12 L416.8,121.81 L416.4,122.02 L416,121.89 L415.6,122.24 L415.2,122.6 L414.8,121.89 L414.4,122.11 L414,122.06 L413.6,122.15 L413.2,121.97 L412.8,121.98 L412.4,121.73 L412,122.18 L411.6,122.36 L411.2,122.26 L410.8,121.93 L410.4,122.05 L410,122.4 L409.6,121.99 L409.2,122.75 L408.8,121.82 L408.4,122.02 L408,121.93 L407.6,121.98 L407.2,122.4 L406.8,122.62 L406.4,122.5 L406,122.18 L405.6,122.03 L405.2,122.23 L404.8,122.56 L404.4,122.34 L404,122.41 L403.6,121.87 L403.2,122.26 L402.8,122.14 L402.4,122.05 L402,121.94 L401.6,122.02 L401.2,122.34 L400.8,122.52 L400.4,122.1 L400,122.02 L399.6,122.04 L399.2,122.13 L398.8,122.12 L398.4,122.37 L398,123.03 L397.6,122.06 L397.2,121.98 L396.8,122.02 L396.4,122.7 L396,122.28 L395.6,122.12 L395.2,122.73 L394.8,122.1 L394.4,123.06 L394,122.1 L393.6,122.35 L393.2,122.1 L392.8,122.32 L392.4,122.31 L392,122.26 L391.6,123.19 L391.2,122.33 L390.8,122.51 L390.4,122.63 L390,122.18 L389.6,122.36 L389.2,122.7 L388.8,122.22 L388.4,122.56 L388,122.59 L387.6,122.28 L387.2,122.64 L386.8,122.18 L386.4,122.5 L386,122.34 L385.6,123.08 L385.2,122.25 L384.8,122.59 L384.4,122.42 L384,122.27 L383.6,122.71 L383.2,122.39 L382.8,122.7 L382.4,122.72 L382,122.86 L381.6,122.83 L381.2,122.74 L380.8,123.52 L380.4,122.88 L380,122.43 L379.6,122.31 L379.2,122.54 L378.8,122.94 L378.4,122.63 L378,122.74 L377.6,123.1 L377.2,122.5 L376.8,122.38 L376.4,122.75 L376,123.05 L375.6,122.48 L375.2,122.45 L374.8,122.64 L374.4,123.38 L374,122.71 L373.6,122.63 L373.2,122.58 L372.8,122.5 L372.4,122.51 L372,122.56 L371.6,123.02 L371.2,122.78 L370.8,122.97 L370.4,122.57 L370,122.96 L369.6,123.79 L369.2,122.62 L368.8,122.99 L368.4,123.32 L368,122.65 L367.6,122.93 L367.2,123.12 L366.8,123.42 L366.4,123.64 L366,122.73 L365.6,123.1 L365.2,122.82 L364.8,123.12 L364.4,123.18 L364,123.05 L363.6,123.43 L363.2,122.82 L362.8,123.9 L362.4,123.17 L362,122.93 L361.6,122.91 L361.2,122.9 L360.8,122.91 L360.4,123.6 L360,122.98 L359.6,123.44 L359.2,123.15 L358.8,123.83 L358.4,123.01 L358,123.8 L357.6,123.04 L357.2,123.66 L356.8,123.08 L356.4,123.33 L356,123.68 L355.6,123.13 L355.2,124.52 L354.8,123.16 L354.4,123.54 L354,123.86 L353.6,123.22 L353.2,123.71 L352.8,124.07 L352.4,123.51 L352,123.35 L351.6,123.31 L351.2,123.43 L350.8,123.35 L350.4,123.45 L350,123.39 L349.6,124.11 L349.2,123.49 L348.8,123.45 L348.4,123.47 L348,124.43 L347.6,124.98 L347.2,123.54 L346.8,124.4 L346.4,123.78 L346,123.6 L345.6,123.62 L345.2,123.64 L344.8,124.02 L344.4,123.69 L344,124.68 L343.6,124.42 L343.2,123.98 L342.8,123.85 L342.4,123.87 L342,124.12 L341.6,123.85 L341.2,123.87 L340.8,124.09 L340.4,123.92 L340,123.95 L339.6,124.32 L339.2,124.19 L338.8,124.79 L338.4,124.58 L338,124.07 L337.6,125.31 L337.2,124.12 L336.8,124.15 L336.4,124.18 L336,124.2 L335.6,124.23 L335.2,124.26 L334.8,125 L334.4,124.84 L334,124.42 L333.6,124.37 L333.2,124.39 L332.8,124.6 L332.4,124.45 L332,124.48 L331.6,124.51 L331.2,124.89 L330.8,124.56 L330.4,124.59 L330,124.62 L329.6,125.74 L329.2,124.68 L328.8,124.75 L328.4,124.86 L328,124.77 L327.6,125.03 L327.2,124.84 L326.8,125.16 L326.4,125.09 L326,125.13 L325.6,125.1 L325.2,125.39 L324.8,125.05 L324.4,125.26 L324,125.44 L323.6,125.12 L323.2,125.62 L322.8,125.89 L322.4,125.32 L322,125.52 L321.6,125.29 L321.2,125.36 L320.8,125.79 L320.4,125.47 L320,125.6 L319.6,125.7 L319.2,126.01 L318.8,125.54 L318.4,125.57 L318,125.61 L317.6,125.65 L317.2,125.68 L316.8,125.72 L316.4,125.76 L316,126.01 L315.6,126.31 L315.2,126.35 L314.8,125.91 L314.4,125.95 L314,126.25 L313.6,126.54 L313.2,126.29 L312.8,126.39 L312.4,126.38 L312,126.18 L311.6,126.36 L311.2,126.26 L310.8,126.31 L310.4,126.35 L310,126.78 L309.6,126.43 L309.2,126.94 L308.8,126.51 L308.4,126.71 L308,126.6 L307.6,126.71 L307.2,126.68 L306.8,126.73 L306.4,126.77 L306,126.99 L305.6,126.86 L305.2,126.9 L304.8,127.5 L304.4,127.33 L304,127.04 L303.6,127.34 L303.2,127.13 L302.8,127.17 L302.4,127.22 L302,127.27 L301.6,127.31 L301.2,127.36 L300.8,127.47 L300.4,127.46 L300,127.68 L299.6,127.55 L299.2,127.74 L298.8,127.65 L298.4,127.7 L298,127.75 L297.6,128.1 L297.2,127.85 L296.8,127.9 L296.4,127.95 L296,128 L295.6,128.06 L295.2,128.11 L294.8,128.17 L294.4,128.22 L294,128.28 L293.6,128.48 L293.2,128.53 L292.8,128.57 L292.4,128.51 L292,128.57 L291.6,128.63 L291.2,128.69 L290.8,128.75 L290.4,128.81 L290,128.88 L289.6,128.94 L289.2,129.01 L288.8,129.08 L288.4,129.15 L288,129.21Z" fill="#00ff00" stroke="none"/>
<path d="M53.2,62.27 L79.31,57.9 L94.59,57.57 L105.43,59 L113.84,60.8 L120.7,62.5 L126.51,63.98 L131.54,65.3 L135.98,66.52 L139.95,67.69 L143.54,68.83 L146.82,69.96 L149.83,71.07 L152.63,72.17 L155.23,73.27 L157.66,74.37 L159.94,75.46 L162.09,76.55 L164.13,77.62 L166.06,78.69 L167.9,79.74 L169.66,80.78 L171.33,81.81 L172.93,82.83 L174.47,83.84 L175.95,84.84 L177.37,85.82 L178.74,86.8 L180.06,87.76 L181.34,88.71 L182.58,89.65 L183.77,90.58 L184.93,91.5 L186.06,92.41 L187.15,93.31 L188.21,94.2 L189.24,95.08 L190.25,95.95 L191.22,96.81 L192.18,97.67 L193.11,98.51 L194.02,99.35 L194.9,100.17 L195.77,100.99 L196.62,101.8 L197.44,102.6 L198.25,103.4 L199.05,104.19 L199.82,104.97 L200.59,105.74 L201.33,106.5 L202.06,107.26 L202.78,108.01 L203.49,108.75 L204.18,109.49 L204.86,110.22 L205.52,110.94 L206.18,111.66 L206.82,112.37 L207.45,113.08 L208.08,113.77 L208.69,114.47 L209.29,115.15 L209.89,115.83 L210.47,116.51 L211.05,117.18 L211.61,117.84 L212.17,118.5 L212.72,119.16 L213.26,119.8 L213.8,120.45 L214.32,121.08 L214.84,121.72 L215.36,122.35 L215.86,122.97 L216.36,123.59 L216.85,124.2 L217.34,124.81 L217.82,125.42 L218.29,126.02 L218.76,126.61 L219.22,127.21 L219.68,127.79 L220.13,128.38 L220.58,128.96 L221.02,129.53 L221.45,130.1 L221.88,130.67 L222.31,131.24 L222.73,131.8 L223.15,132.35 L223.56,132.9 L223.97,133.45 L224.37,134 L224.77,134.54 L225.16,135.08 L225.55,135.61 L225.94,136.15 L226.32,136.68 L226.7,137.2 L227.07,137.72 L227.45,138.24 L227.81,138.76 L228.18,139.27 L228.54,139.78 L228.9,140.29 L229.25,140.79 L229.6,141.29 L229.95,141.79 L230.29,142.28 L230.63,142.77 L230.97,143.26 L231.3,143.75 L231.64,144.23 L231.97,144.71 L232.29,145.19 L232.62,145.67 L232.94,146.14 L233.25,146.61 L233.57,147.08 L233.88,147.54 L234.19,148 L234.5,148.46 L234.8,148.92 L235.11,149.37 L235.41,149.83 L235.71,150.28 L236.01,150.73 L236.31,151.18 L236.61,151.64 L236.91,152.09 L237.21,152.55 L237.51,153.01 L237.81,153.47 L238.11,153.93 L238.41,154.39 L238.71,154.85 L239.01,155.31 L239.31,155.77 L239.61,156.23 L239.91,156.7 L240.21,157.16 L240.51,157.62 L240.81,158.09 L241.11,158.55 L241.41,159.02 L241.71,159.49 L242.01,159.95 L242.31,160.42 L242.61,160.89 L242.91,161.36 L243.21,161.83 L243.51,162.3 L243.81,162.77 L244.11,163.24 L244.41,163.71 L244.71,164.18 L245.01,164.65 L245.31,165.12 L245.61,165.59 L245.91,166.07 L246.21,166.54 L246.51,167.01 L246.81,167.48 L247.11,167.96 L247.41,168.43 L247.71,168.9 L248.01,169.37 L248.31,169.85 L248.61,170.32 L248.91,170.79 L249.21,171.27 L249.51,171.74 L249.81,172.21 L250.11,172.69 L250.41,173.16 L250.71,173.63 L251.01,174.1 L251.31,174.58 L251.61,175.05 L251.91,175.52 L252.21,175.99 L252.51,176.46 L252.81,176.93 L253.11,177.41 L253.41,177.88 L253.71,178.35 L254.01,178.82 L254.31,179.29 L254.61,179.76 L254.91,180.22 L255.21,180.69 L255.51,181.16 L255.81,181.63 L256.11,182.09 L256.41,182.56 L256.71,183.03 L257.01,183.49 L257.31,183.96 L257.61,184.42 L257.91,184.88 L258.21,185.35 L258.51,185.81 L258.81,186.27 L259.11,186.73 L259.41,187.19 L259.71,187.65 L260.01,188.11 L260.31,188.57 L260.61,189.02 L260.91,189.48 L261.21,189.93 L261.51,190.38 L261.81,190.84 L262.11,191.29 L262.41,191.74 L262.71,192.18 L263.01,192.63 L263.31,193.08 L263.61,193.52 L263.91,193.96 L264.21,194.41 L264.51,194.85 L264.81,195.28 L265.11,195.72 L265.41,196.16 L265.71,196.59 L266.01,197.02 L266.31,197.45 L266.61,197.88 L266.91,198.31 L267.21,198.73 L267.51,199.15 L267.81,199.57 L268.11,199.99 L268.41,200.41 L268.71,200.83 L269.01,201.24 L269.31,201.65 L269.61,202.06 L269.91,202.46 L270.21,202.87 L270.51,203.27 L270.81,203.67 L271.11,204.07 L271.41,204.46 L271.71,204.85 L272.01,205.24 L272.31,205.63 L272.61,206.01 L272.91,206.4 L273.21,206.77 L273.51,207.15 L273.81,207.52 L274.11,207.9 L274.41,208.26 L274.71,208.63 L275.01,208.99 L275.31,209.35 L275.61,209.71 L275.91,210.06 L276.21,210.41 L276.51,210.76 L276.81,211.11 L277.11,211.45 L277.41,211.79 L277.71,212.13 L278.01,212.46 L278.31,212.79 L278.61,213.12 L278.91,213.45 L279.21,213.77 L279.51,214.09 L279.81,214.41 L280.11,214.73 L280.41,215.04 L280.71,215.35 L281.01,215.66 L281.31,215.96 L281.61,216.27 L281.91,216.57 L282.21,216.87 L282.51,217.16 L282.81,217.46 L283.11,217.75 L283.41,218.04 L283.71,218.33 L284.01,218.61 L284.31,218.89 L284.61,219.17 L284.91,219.45 L285.21,219.73 L285.51,220 L285.81,220.27 L286.11,220.54 L286.41,220.81 L286.71,221.08 L287.01,221.34 L287.31,221.6 L287.61,221.86 L287.91,222.12 L288.21,222.38 L288.51,222.63 L288.81,222.88 L289.11,223.13 L289.41,223.38 L289.71,223.63 L290.01,223.88 L290.31,224.12 L290.61,224.36 L290.91,224.6 L291.21,224.84 L291.51,225.08 L291.81,225.31 L292.11,225.54 L292.41,225.78 L292.71,226.01 L293.01,226.23 L293.31,226.46 L293.61,226.69 L293.91,226.91 L294.21,227.13 L294.51,227.36 L294.81,227.58 L295.11,227.79 L295.41,228.01 L295.71,228.23 L296.01,228.44 L296.31,228.66 L296.61,228.87 L296.91,229.08 L297.21,229.29 L297.51,229.5 L297.81,229.71 L298.11,229.91 L298.41,230.12 L298.71,230.32 L299.01,230.53 L299.31,230.73 L299.61,230.93 L299.91,231.13 L300.21,231.33 L300.51,231.53 L300.81,231.72 L301.11,231.92 L301.41,232.12 L301.71,232.31 L302.01,232.5 L302.31,232.7 L302.61,232.89 L302.91,233.08 L303.21,233.27 L303.51,233.46 L303.81,233.65 L304.11,233.84 L304.41,234.02 L304.71,234.21 L305.01,234.39 L305.31,234.58 L305.61,234.76 L305.91,234.95 L306.21,235.13 L306.51,235.31 L306.81,235.49 L307.11,235.67 L307.41,235.85 L307.71,236.03 L308.01,236.21 L308.31,236.38 L308.61,236.56 L308.91,236.74 L309.21,236.91 L309.51,237.09 L309.81,237.26 L310.11,237.43 L310.41,237.61 L310.71,237.78 L311.01,237.95 L311.31,238.12 L311.61,238.29 L311.91,238.46 L312.21,238.63 L312.51,238.8 L312.81,238.97 L313.11,239.14 L313.41,239.3 L313.71,239.47 L314.01,239.64 L314.31,239.8 L314.61,239.97 L314.91,240.13 L315.21,240.3 L315.51,240.46 L315.81,240.62 L316.11,240.79 L316.41,240.95 L316.71,241.11 L317.01,241.27 L317.31,241.43 L317.61,241.59 L317.91,241.75 L318.21,241.91 L318.51,242.07 L318.81,242.23 L319.11,242.39 L319.41,242.55 L319.71,242.71 L320.01,242.87 L320.31,243.03 L320.61,243.18 L320.91,243.34 L321.21,243.5 L321.51,243.66 L321.81,243.81 L322.11,243.97 L322.41,244.13 L322.71,244.28 L323.01,244.44 L323.31,244.59 L323.61,244.75 L323.91,244.9 L324.21,245.06 L324.51,245.21 L324.81,245.37 L325.11,245.52 L325.41,245.68 L325.71,245.83 L326.01,245.99 L326.31,246.14 L326.61,246.3 L326.91,246.45 L327.21,246.6 L327.51,246.76 L327.81,246.91 L328.11,247.06 L328.41,247.22 L328.71,247.37 L329.01,247.52 L329.31,247.68 L329.61,247.83 L329.91,247.98 L330.21,248.13 L330.51,248.29 L330.81,248.44 L331.11,248.59 L331.41,248.74 L331.71,248.9 L332.01,249.05 L332.31,249.2 L332.61,249.35 L332.91,249.5 L333.21,249.65 L333.51,249.81 L333.81,249.96 L334.11,250.11 L334.41,250.26 L334.71,250.41 L335.01,250.56 L335.31,250.71 L335.61,250.86 L335.91,251.01 L336.21,251.16 L336.51,251.31 L336.81,251.46 L337.11,251.61 L337.41,251.76 L337.71,251.91 L338.01,252.06 L338.31,252.21 L338.61,252.36 L338.91,252.51 L339.21,252.66 L339.51,252.81 L339.81,252.96 L340.11,253.11 L340.41,253.26 L340.71,253.41 L341.01,253.55 L341.31,253.7 L341.61,253.85 L341.91,254 L342.21,254.15 L342.51,254.3 L342.81,254.44 L343.11,254.59 L343.41,254.74 L343.71,254.89 L344.01,255.03 L344.31,255.18 L344.61,255.33 L344.91,255.48 L345.21,255.62 L345.51,255.77 L345.81,255.92 L346.11,256.07 L346.41,256.21 L346.71,256.36 L347.01,256.51 L347.31,256.65 L347.61,256.8 L347.91,256.94 L348.21,257.09 L348.51,257.24 L348.81,257.38 L349.11,257.53 L349.41,257.68 L349.71,257.82 L350.01,257.97 L350.31,258.11 L350.61,258.26 L350.91,258.4 L351.21,258.55 L351.51,258.69 L351.81,258.84 L352.11,258.98 L352.41,259.13 L352.71,259.27 L353.01,259.42 L353.31,259.56 L353.61,259.71 L353.91,259.85 L354.21,260 L354.51,260.14 L354.81,260.29 L355.11,260.43 L355.41,260.57 L355.71,260.72 L356.01,260.86 L356.31,261.01 L356.61,261.15 L356.91,261.29 L357.21,261.44 L357.51,261.58 L357.81,261.72 L358.11,261.87 L358.41,262.01 L358.71,262.15 L359.01,262.3 L359.31,262.44 L359.61,262.58 L359.91,262.73 L360.21,262.87 L360.51,263.01 L360.81,263.15 L361.11,263.3 L361.41,263.44 L361.71,263.58 L362.01,263.72 L362.31,263.87 L362.61,264.01 L362.91,264.15 L363.21,264.29 L363.51,264.43 L363.81,264.58 L364.11,264.72 L364.41,264.86 L364.71,265 L365.01,265.14 L365.31,265.28 L365.61,265.43 L365.91,265.57 L366.21,265.71 L366.51,265.85 L366.81,265.99 L367.11,266.13 L367.41,266.27 L367.71,266.41 L368.01,266.56 L368.31,266.7 L368.61,266.84 L368.91,266.98 L369.21,267.12 L369.51,267.26 L369.81,267.4 L370.11,267.54 L370.41,267.68 L370.71,267.82 L371.01,267.96 L371.31,268.1 L371.61,268.24 L371.91,268.38 L372.21,268.52 L372.51,268.66 L372.81,268.8 L373.11,268.94 L373.41,269.08 L373.71,269.22 L374.01,269.36 L374.31,269.5 L374.61,269.64 L374.91,269.78 L375.21,269.92 L375.51,270.06 L375.81,270.2 L376.11,270.34 L376.41,270.48 L376.71,270.61 L377.01,270.75 L377.31,270.89 L377.61,271.03 L377.91,271.17 L378.21,271.31 L378.51,271.45 L378.81,271.59 L379.11,271.73 L379.41,271.86 L379.71,272 L380.01,272.14 L380.31,272.28 L380.61,272.42 L380.91,272.56 L381.21,272.7 L381.51,272.83 L381.81,272.97 L382.11,273.11 L382.41,273.25 L382.71,273.39 L383.01,273.52 L383.31,273.66 L383.61,273.8 L383.91,273.94 L384.21,274.08 L384.51,274.21 L384.81,274.35 L385.11,274.49 L385.41,274.63 L385.71,274.76 L386.01,274.9 L386.31,275.04 L386.61,275.18 L386.91,275.31 L387.21,275.45 L387.51,275.59 L387.81,275.73 L388.11,275.86 L388.41,276 L388.71,276.14 L389.01,276.28 L389.31,276.41 L389.61,276.55 L389.91,276.69 L390.21,276.82 L390.51,276.96 L390.81,277.1 L391.11,277.24 L391.41,277.37 L391.71,277.51 L392.01,277.65 L392.31,277.78 L392.61,277.92 L392.91,278.06 L393.21,278.19 L393.51,278.33 L393.81,278.47 L394.11,278.6 L394.41,278.74 L394.71,278.88 L395.01,279.01 L395.31,279.15 L395.61,279.29 L395.91,279.42 L396.21,279.56 L396.51,279.69 L396.81,279.83 L397.11,279.97 L397.41,280.1 L397.71,280.24 L398.01,280.38 L398.31,280.51 L398.61,280.65 L398.91,280.78 L399.21,280.92 L399.51,281.06 L399.81,281.19 L400.11,281.33 L400.41,281.46 L400.71,281.6 L401.01,281.74 L401.31,281.87 L401.61,282.01 L401.91,282.14 L402.21,282.28 L402.51,282.42 L402.81,282.55 L403.11,282.69 L403.41,282.82 L403.71,282.96 L404.01,283.1 L404.31,283.23 L404.61,283.37 L404.91,283.5 L405.21,283.64 L405.51,283.77 L405.81,283.91 L406.11,284.05 L406.41,284.18 L406.71,284.32 L407.01,284.45 L407.31,284.59 L407.61,284.72 L407.91,284.86 L408.21,284.99 L408.51,285.13 L408.81,285.27 L409.11,285.4 L409.41,285.54 L409.71,285.67 L410.01,285.81 L410.31,285.94 L410.61,286.08 L410.91,286.21 L411.21,286.35 L411.51,286.48 L411.81,286.62 L412.11,286.76 L412.41,286.89 L412.71,287.03 L413.01,287.16 L413.31,287.3 L413.61,287.43 L413.91,287.57 L414.21,287.7 L414.51,287.84 L414.81,287.97 L415.11,288.11 L415.41,288.24 L415.71,288.38 L416.01,288.52 L416.31,288.65 L416.61,288.79 L416.91,288.92 L417.21,289.06 L417.51,289.19 L417.81,289.33 L418.11,289.46 L418.41,289.6 L418.71,289.73 L419.01,289.87 L419.31,290 L419.61,290.14 L419.91,290.27 L420.21,290.41 L420.51,290.55 L420.81,290.68 L421.11,290.82 L421.41,290.95 L421.71,291.09 L422.01,291.22 L422.31,291.36 L422.61,291.49 L422.91,291.63 L423.21,291.76 L423.51,291.9 L423.81,292.03 L424.11,292.17 L424.41,292.31 L424.71,292.44 L425.01,292.58 L425.31,292.71 L425.61,292.85 L425.91,292.98 L426.21,293.12 L426.51,293.25 L426.81,293.39 L427.11,293.52 L427.41,293.66 L427.71,293.8 L428.01,293.93 L428.31,294.07 L428.61,294.2 L428.91,294.34 L429.21,294.47 L429.51,294.61 L429.81,294.75 L430.11,294.88 L430.41,295.02 L430.71,295.15 L431.01,295.29 L431.31,295.42 L431.61,295.56 L431.91,295.7 L432.21,295.83 L432.51,295.97 L432.81,296.1 L433.11,296.24 L433.41,296.37 L433.71,296.51 L434.01,296.65 L434.31,296.78 L434.61,296.92 L434.91,297.05 L435.21,297.19 L435.51,297.33 L435.81,297.46 L436.11,297.6 L436.41,297.73 L436.71,297.87 L437.01,298.01 L437.31,298.14 L437.61,298.28 L437.91,298.42 L438.21,298.55 L438.51,298.69 L438.81,298.82 L439.11,298.96 L439.41,299.1 L439.71,299.23 L440.01,299.37 L440.31,299.51 L440.61,299.64 L440.91,299.78 L441.21,299.92 L441.51,300.05 L441.81,300.19 L442.11,300.33 L442.41,300.46 L442.71,300.6 L443.01,300.74 L443.31,300.87 L443.61,301.01 L443.91,301.15 L444.21,301.28 L444.51,301.42 L444.81,301.56 L445.11,301.7 L445.41,301.83 L445.71,301.97 L446.01,302.11 L446.31,302.24 L446.61,302.38 L446.91,302.52 L447.21,302.66 L447.51,302.79 L447.81,302.93 L448.11,303.07 L448.41,303.2 L448.71,303.34 L449.01,303.48 L449.31,303.62 L449.61,303.76 L449.91,303.89 L450.21,304.03 L450.51,304.17 L450.81,304.31 L451.11,304.44 L451.41,304.58 L451.71,304.72 L452.01,304.86 L452.31,305 L452.61,305.13 L452.91,305.27 L453.21,305.41 L453.51,305.55 L453.81,305.69 L454.11,305.83 L454.41,305.96 L454.71,306.1 L455.01,306.24 L455.31,306.38 L455.61,306.52 L455.91,306.66 L456.21,306.79 L456.51,306.93 L456.81,307.07 L457.11,307.21 L457.41,307.35 L457.71,307.49 L458.01,307.63 L458.31,307.77 L458.61,307.91 L458.91,308.05 L459.21,308.18 L459.51,308.32 L459.81,308.46 L460.11,308.6 L460.41,308.74 L460.71,308.88 L461.01,309.02 L461.31,309.16 L461.61,309.3 L461.91,309.44 L462.21,309.58 L462.51,309.72 L462.81,309.86 L463.11,310 L463.41,310.14 L463.71,310.28 L464.01,310.42 L464.31,310.56 L464.61,310.7 L464.91,310.84 L465.21,310.98 L465.51,311.12 L465.81,311.26 L466.11,311.4 L466.41,311.54 L466.71,311.68 L467.01,311.82 L467.31,311.97 L467.61,312.11 L467.91,312.25 L468.21,312.39 L468.51,312.53 L468.81,312.67 L469.11,312.81 L469.41,312.95 L469.71,313.1 L470.01,313.24 L470.31,313.38 L470.61,313.52 L470.91,313.66 L471.21,313.8 L471.51,313.95 L471.81,314.09 L472.11,314.23 L472.41,314.37 L472.71,314.51 L473.01,314.66 L473.31,314.8 L473.61,314.94 L473.75,315.01" fill="none" stroke="#ff0000" stroke-width="2" stroke-linejoin="round" stroke-linecap="butt"/>
<path d="M300,230.36 L300.4,230.63 L300.8,230.9 L301.2,231.16 L301.6,231.43 L302,231.69 L302.4,231.95 L302.8,232.14 L303.2,232.46 L303.6,232.71 L304,232.93 L304.4,233.22 L304.8,233.46 L305.2,233.64 L305.6,233.95 L306,234.2 L306.4,234.44 L306.8,234.68 L307.2,234.72 L307.6,235.15 L308,235.38 L308.4,235.62 L308.8,235.85 L309.2,236.08 L309.6,236.31 L310,236.53 L310.4,236.76 L310.8,236.98 L311.2,237.21 L311.6,237.43 L312,237.65 L312.4,237.49 L312.8,238.08 L313.2,238.3 L313.6,238.51 L314,238.3 L314.4,238.94 L314.8,239.15 L315.2,239.27 L315.6,239.27 L316,239.78 L316.4,239.99 L316.8,240.1 L317.2,240.4 L317.6,240.21 L318,240.67 L318.4,241.02 L318.8,241.22 L319.2,241.42 L319.6,241.62 L320,241.66 L320.4,242.02 L320.8,242.22 L321.2,242.23 L321.6,242.62 L322,242.82 L322.4,243.02 L322.8,243.21 L323.2,243.22 L323.6,243.25 L324,243.81 L324.4,243.9 L324.8,244.2 L325.2,244.39 L325.6,244.55 L326,244.79 L326.4,244.98 L326.8,244.97 L327.2,245.28 L327.6,245.57 L328,245.76 L328.4,245.96 L328.8,246.15 L329.2,245.83 L329.6,245.92 L330,246.05 L330.4,246.55 L330.8,246.18 L331.2,247.26 L331.6,247.39 L332,247.59 L332.4,247.6 L332.8,248.09 L333.2,248.28 L333.6,248.47 L334,248.67 L334.4,248.86 L334.8,249.05 L335.2,248.88 L335.6,249.44 L336,249.06 L336.4,249.24 L336.8,250.01 L337.2,250.2 L337.6,249.71 L338,250.59 L338.4,250.62 L338.8,250.97 L339.2,250.75 L339.6,250.71 L340,251.27 L340.4,251.31 L340.8,251.92 L341.2,251.52 L341.6,251.7 L342,252 L342.4,252.67 L342.8,252.86 L343.2,252.63 L343.6,252.75 L344,253.42 L344.4,252.59 L344.8,253.03 L345.2,252.25 L345.6,253.19 L346,254.35 L346.4,254.54 L346.8,254.3 L347.2,254.81 L347.6,255.1 L348,255.28 L348.4,254.78 L348.8,255.62 L349.2,255.37 L349.6,256.03 L350,255.6 L350.4,256.4 L350.8,255.82 L351.2,256.77 L351.6,255.68 L352,257.14 L352.4,256.74 L352.8,256.8 L353.2,257.69 L353.6,257.24 L354,258.06 L354.4,257.28 L354.8,258.37 L355.2,258.43 L355.6,257.84 L356,258.44 L356.4,258.26 L356.8,259.12 L357.2,259.53 L357.6,257.96 L358,258.76 L358.4,260.08 L358.8,259.01 L359.2,260.26 L359.6,259.94 L360,260.44 L360.4,260.65 L360.8,261.17 L361.2,260.46 L361.6,261.54 L362,261.72 L362.4,261.6 L362.8,261.56 L363.2,261.96 L363.6,261.66 L364,261 L364.4,262.81 L364.8,262.98 L365.2,263.17 L365.6,262.37 L366,263.45 L366.4,263.2 L366.8,262.86 L367.2,263.46 L367.6,262.06 L368,264.44 L368.4,262.76 L368.8,264.13 L369.2,264.16 L369.6,264.19 L370,265.15 L370.4,265.26 L370.8,265.11 L371.2,264.15 L371.6,265.72 L372,265.4 L372.4,265.86 L372.8,265.93 L373.2,266.66 L373.6,266.54 L374,267.09 L374.4,267.3 L374.8,267.36 L375.2,267.34 L375.6,267.42 L376,267.38 L376.4,267.56 L376.8,266.82 L377.2,268.05 L377.6,267.33 L378,266.41 L378.4,269.19 L378.8,268.72 L379.2,269.56 L379.6,269.74 L380,267.46 L380.4,268.74 L380.8,268.81 L381.2,269.6 L381.6,270.44 L382,270.5 L382.4,271.02 L382.8,270.44 L383.2,270.33 L383.6,271.31 L384,270.81 L384.4,270.89 L384.8,271.77 L385.2,272.14 L385.6,271.23 L386,271.58 L386.4,272.52 L386.8,271.62 L387.2,273.15 L387.6,272.67 L388,273.56 L388.4,273.67 L388.8,273.28 L389.2,273.23 L389.6,273.65 L390,273.58 L390.4,274.6 L390.8,274.06 L391.2,274.52 L391.6,274.74 L392,274.34 L392.4,275.03 L392.8,274.9 L393.2,274.04 L393.6,274.96 L394,276.05 L394.4,276.26 L394.8,276.29 L395.2,276.78 L395.6,275.73 L396,276.36 L396.4,276.63 L396.8,276.94 L397.2,276.54 L397.6,277.63 L398,277.87 L398.4,277.25 L398.8,278.1 L399.2,278.37 L399.6,278.4 L400,277.34 L400.4,278.43 L400.8,278.34 L401.2,279.05 L401.6,279.09 L402,279.29 L402.4,280 L402.8,280.23 L403.2,279.08 L403.6,280.53 L404,279.62 L404.4,280.72 L404.8,280.86 L405.2,281.31 L405.6,279.93 L406,281.28 L406.4,281.41 L406.8,281.94 L407.2,282.08 L407.6,281.69 L408,281.77 L408.4,281.81 L408.8,282.18 L409.2,282.76 L409.6,282.61 L410,283.16 L410.4,282.77 L410.8,283.01 L411.2,282.72 L411.6,284.04 L412,283.37 L412.4,284.33 L412.8,284.5 L413.2,283.61 L413.6,283.47 L414,284.14 L414.4,285.29 L414.8,285.63 L415.2,285.66 L415.6,285.82 L416,285.77 L416.4,284.87 L416.8,286.35 L417.2,286.15 L417.6,286.04 L418,286.71 L418.4,287.2 L418.8,287.28 L419.2,286.6 L419.6,287.48 L420,286.56 L420.4,287.43 L420.8,287.16 L421.2,288.35 L421.6,288.3 L422,288.58 L422.4,288.29 L422.8,288.56 L423.2,288.89 L423.6,288.82 L424,289.38 L424.4,289.92 L424.8,289.66 L425.2,289.91 L425.6,290.52 L426,290.05 L426.4,290.84 L426.8,290.44 L427.2,290.25 L427.6,290.31 L428,291.07 L428.4,290.81 L428.8,291.77 L429.2,292.09 L429.6,291.99 L430,292.2 L430.4,291.71 L430.8,291.08 L431.2,292.44 L431.6,291.61 L432,293.41 L432.4,293.59 L432.8,293.27 L433.2,292.67 L433.6,293.3 L434,294.27 L434.4,294.38 L434.8,294.29 L435.2,294.76 L435.6,294.59 L436,294.94 L436.4,295.38 L436.8,295.12 L437.2,295.31 L437.6,295.86 L438,296.04 L438.4,295.49 L438.8,295.39 L439.2,296.59 L439.6,295.88 L440,296.27 L440.4,296.7 L440.8,297.05 L441.2,297.58 L441.6,297.59 L442,297.83 L442.4,297.73 L442.8,298.29 L443.2,297.06 L443.6,297.1 L444,298.81 L444.4,298.73 L444.8,298.48 L445.2,298.44 L445.6,298.06 L446,299.51 L446.4,298.49 L446.8,299.75 L447.2,300.26 L447.6,300.16 L448,300.23 L448.4,300.03 L448.8,300.73 L449.2,301.12 L449.6,301.28 L450,300.64 L450.4,301.2 L450.8,301.25 L451.2,301.69 L451.6,302.08 L452,302.06 L452.4,302.42 L452.8,302.19 L453.2,302.86 L453.6,302.93 L454,302.71 L454.4,303.58 L454.8,302.33 L455.2,303.9 L455.6,301.92 L456,303.63 L456.4,304.16 L456.8,304.34 L457.2,302.91 L457.6,304.95 L458,305.11 L458.4,304.09 L458.8,304.65 L459.2,304.47 L459.6,305.8 L460,305.65 L460.4,304.58 L460.8,306.42 L461.2,306.47 L461.6,306.42 L462,307.01 L462.4,306.47 L462.8,306.79 L463.2,307.14 L463.6,307.4 L464,307.3 L464.4,307.42 L464.8,308.34 L465.2,307.61 L465.6,307.78 L466,307.98 L466.4,308.61 L466.8,309.21 L467.2,309.17 L467.6,309.63 L468,309.82 L468.4,309.79 L468.8,309.73 L469.2,308.91 L469.6,310.42 L470,310.35 L470.4,310.06 L470.8,310.64 L471.2,310.82 L471.6,310.98 L472,311.54 L472.4,311.97 L472.8,312.14 L473.2,312.06 L473.6,312.36 L473.6,317.19 L473.2,317.57 L472.8,316.98 L472.4,316.83 L472,317.68 L471.6,316.63 L471.2,317.13 L470.8,316.35 L470.4,316.79 L470,316.43 L469.6,315.67 L469.2,315.8 L468.8,315.85 L468.4,315.08 L468,314.85 L467.6,315.11 L467.2,314.91 L466.8,314.54 L466.4,314.24 L466,313.99 L465.6,313.87 L465.2,314.95 L464.8,314.03 L464.4,313.28 L464,313.38 L463.6,312.85 L463.2,313.16 L462.8,312.45 L462.4,312.25 L462,312.81 L461.6,312.43 L461.2,312.12 L460.8,311.87 L460.4,312.01 L460,312.2 L459.6,311.57 L459.2,311.8 L458.8,311.26 L458.4,311.2 L458,310.39 L457.6,310.67 L457.2,310.06 L456.8,309.62 L456.4,310.22 L456,309.32 L455.6,309.36 L455.2,308.89 L454.8,310.03 L454.4,308.7 L454,309.35 L453.6,308.64 L453.2,308.6 L452.8,308 L452.4,308.07 L452,307.78 L451.6,307.39 L451.2,308.51 L450.8,307.12 L450.4,306.72 L450,308.02 L449.6,306.51 L449.2,306.34 L448.8,307.1 L448.4,306.34 L448,305.74 L447.6,305.38 L447.2,305.16 L446.8,305.67 L446.4,305.01 L446,305.03 L445.6,304.7 L445.2,304.48 L444.8,304.5 L444.4,304.12 L444,304.33 L443.6,303.54 L443.2,303.62 L442.8,304.41 L442.4,303.6 L442,304.23 L441.6,303 L441.2,302.96 L440.8,302.51 L440.4,302.3 L440,302.22 L439.6,302.4 L439.2,302.39 L438.8,301.86 L438.4,301.66 L438,301.18 L437.6,302.05 L437.2,301.61 L436.8,300.44 L436.4,300.56 L436,300.64 L435.6,300.12 L435.2,299.67 L434.8,300.42 L434.4,300.55 L434,299.45 L433.6,299.69 L433.2,299.02 L432.8,298.93 L432.4,298.44 L432,298.44 L431.6,298.93 L431.2,297.91 L430.8,297.84 L430.4,298.03 L430,297.5 L429.6,297.4 L429.2,297.12 L428.8,297.06 L428.4,296.6 L428,296.42 L427.6,296.17 L427.2,296.95 L426.8,296.06 L426.4,296.89 L426,296.1 L425.6,296.78 L425.2,296.09 L424.8,295.94 L424.4,295.02 L424,294.79 L423.6,294.36 L423.2,294.96 L422.8,294.11 L422.4,294.83 L422,295.19 L421.6,293.66 L421.2,294.33 L420.8,293.75 L420.4,294.01 L420,293.35 L419.6,293.68 L419.2,292.63 L418.8,292.6 L418.4,292.76 L418,292.28 L417.6,291.85 L417.2,293.11 L416.8,292.63 L416.4,291.35 L416,290.93 L415.6,291.33 L415.2,291.29 L414.8,291.36 L414.4,290.67 L414,290.39 L413.6,289.9 L413.2,289.84 L412.8,290.76 L412.4,289.46 L412,289.3 L411.6,288.85 L411.2,288.92 L410.8,289.16 L410.4,288.42 L410,288.59 L409.6,288.17 L409.2,289.06 L408.8,287.95 L408.4,287.46 L408,288.15 L407.6,288.24 L407.2,288.09 L406.8,287.4 L406.4,287.96 L406,287.2 L405.6,287.24 L405.2,286.16 L404.8,287.3 L404.4,286.27 L404,285.41 L403.6,285.33 L403.2,285.17 L402.8,285.29 L402.4,285.36 L402,285.27 L401.6,284.27 L401.2,284.97 L400.8,283.89 L400.4,284.14 L400,284.11 L399.6,283.9 L399.2,283.98 L398.8,283.07 L398.4,282.96 L398,282.65 L397.6,282.77 L397.2,283.29 L396.8,282.23 L396.4,282.19 L396,281.99 L395.6,283.33 L395.2,282.61 L394.8,281.82 L394.4,280.91 L394,281.08 L393.6,280.73 L393.2,280.47 L392.8,280.17 L392.4,280.26 L392,280.16 L391.6,280.51 L391.2,280.43 L390.8,279.63 L390.4,279.14 L390,279.23 L389.6,279.76 L389.2,278.56 L388.8,278.9 L388.4,278.16 L388,278.74 L387.6,279.93 L387.2,277.91 L386.8,277.46 L386.4,278.16 L386,277.77 L385.6,276.89 L385.2,276.62 L384.8,276.43 L384.4,276.8 L384,276.05 L383.6,276.86 L383.2,275.68 L382.8,275.52 L382.4,276.89 L382,276.77 L381.6,275.42 L381.2,274.96 L380.8,274.55 L380.4,275.04 L380,274.36 L379.6,274.99 L379.2,274.59 L378.8,274.57 L378.4,273.47 L378,273.4 L377.6,273.05 L377.2,273.82 L376.8,272.66 L376.4,272.58 L376,272.29 L375.6,272.22 L375.2,271.91 L374.8,271.72 L374.4,271.86 L374,271.52 L373.6,271.15 L373.2,270.96 L372.8,270.79 L372.4,272.33 L372,272.1 L371.6,270.73 L371.2,270.43 L370.8,269.82 L370.4,269.86 L370,270.35 L369.6,270.19 L369.2,270.6 L368.8,269.24 L368.4,269.45 L368,268.56 L367.6,268.64 L367.2,269.16 L366.8,268.63 L366.4,269.63 L366,267.88 L365.6,267.3 L365.2,267.41 L364.8,266.91 L364.4,266.71 L364,266.63 L363.6,267.3 L363.2,266.38 L362.8,267.18 L362.4,265.74 L362,266.49 L361.6,265.9 L361.2,266.17 L360.8,266.24 L360.4,265.35 L360,264.56 L359.6,264.43 L359.2,265.35 L358.8,264.53 L358.4,263.77 L358,264.77 L357.6,263.38 L357.2,263.18 L356.8,263.51 L356.4,262.78 L356,262.59 L355.6,262.67 L355.2,263.38 L354.8,263.02 L354.4,261.8 L354,261.6 L353.6,261.4 L353.2,261.53 L352.8,261 L352.4,260.8 L352,260.81 L351.6,260.41 L351.2,260.93 L350.8,260.01 L350.4,259.81 L350,259.61 L349.6,259.77 L349.2,260.32 L348.8,259.01 L348.4,259.68 L348,258.61 L347.6,259.14 L347.2,258.21 L346.8,258.01 L346.4,258.81 L346,258.25 L345.6,257.72 L345.2,257.31 L344.8,257.01 L344.4,256.88 L344,257.75 L343.6,256.41 L343.2,256.77 L342.8,256.41 L342.4,256.54 L342,255.73 L341.6,256.11 L341.2,255.79 L340.8,255 L340.4,255.42 L340,255.3 L339.6,254.39 L339.2,254.91 L338.8,253.99 L338.4,253.79 L338,253.95 L337.6,253.4 L337.2,254.3 L336.8,252.99 L336.4,252.78 L336,252.58 L335.6,252.56 L335.2,252.62 L334.8,251.98 L334.4,251.78 L334,251.57 L333.6,251.37 L333.2,251.4 L332.8,251.41 L332.4,250.76 L332,250.56 L331.6,250.65 L331.2,250.9 L330.8,249.95 L330.4,249.75 L330,249.54 L329.6,249.62 L329.2,249.61 L328.8,249.32 L328.4,249.82 L328,249.32 L327.6,248.32 L327.2,248.14 L326.8,247.91 L326.4,247.7 L326,247.5 L325.6,247.4 L325.2,247.09 L324.8,246.88 L324.4,246.87 L324,246.74 L323.6,246.27 L323.2,246.06 L322.8,245.85 L322.4,245.64 L322,245.73 L321.6,245.49 L321.2,245.6 L320.8,244.82 L320.4,244.6 L320,244.67 L319.6,244.18 L319.2,244.42 L318.8,243.76 L318.4,243.55 L318,243.52 L317.6,243.62 L317.2,242.91 L316.8,242.69 L316.4,242.47 L316,242.32 L315.6,242.09 L315.2,241.82 L314.8,242.12 L314.4,241.5 L314,241.16 L313.6,241.05 L313.2,240.95 L312.8,240.49 L312.4,240.31 L312,240.18 L311.6,239.81 L311.2,239.58 L310.8,239.35 L310.4,239.12 L310,238.88 L309.6,238.65 L309.2,238.41 L308.8,238.17 L308.4,238.2 L308,237.69 L307.6,237.53 L307.2,237.22 L306.8,236.96 L306.4,236.81 L306,236.47 L305.6,236.22 L305.2,235.96 L304.8,235.71 L304.4,235.45 L304,235.2 L303.6,234.94 L303.2,234.69 L302.8,234.41 L302.4,234.14 L302,233.9 L301.6,233.61 L301.2,233.34 L300.8,233.06 L300.4,233.02 L300,232.54Z" fill="#ff0000" stroke="none"/>
<path d="M53.2,43.31 L79.31,32.45 L94.59,28.65 L105.43,27.61 L113.84,27.91 L120.7,28.75 L126.51,29.77 L131.54,30.83 L135.98,31.84 L139.95,32.81 L143.54,33.76 L146.82,34.69 L149.83,35.61 L152.63,36.52 L155.23,37.41 L157.66,38.3 L159.94,39.19 L162.09,40.06 L164.13,40.94 L166.06,41.8 L167.9,42.66 L169.66,43.5 L171.33,44.34 L172.93,45.17 L174.47,45.99 L175.95,46.79 L177.37,47.59 L178.74,48.38 L180.06,49.15 L181.34,49.92 L182.58,50.68 L183.77,51.43 L184.93,52.17 L186.06,52.9 L187.15,53.62 L188.21,54.33 L189.24,55.03 L190.25,55.72 L191.22,56.41 L192.18,57.08 L193.11,57.75 L194.02,58.42 L194.9,59.07 L195.77,59.72 L196.62,60.35 L197.44,60.99 L198.25,61.61 L199.05,62.23 L199.82,62.84 L200.59,63.44 L201.33,64.04 L202.06,64.64 L202.78,65.22 L203.49,65.8 L204.18,66.38 L204.86,66.95 L205.52,67.51 L206.18,68.07 L206.82,68.62 L207.45,69.17 L208.08,69.71 L208.69,70.24 L209.29,70.77 L209.89,71.3 L210.47,71.82 L211.05,72.33 L211.61,72.84 L212.17,73.34 L212.72,73.83 L213.26,74.32 L213.8,74.8 L214.32,75.28 L214.84,75.75 L215.36,76.22 L215.86,76.68 L216.36,77.13 L216.85,77.58 L217.34,78.02 L217.82,78.45 L218.29,78.88 L218.76,79.31 L219.22,79.72 L219.68,80.14 L220.13,80.54 L220.58,80.94 L221.02,81.34 L221.45,81.73 L221.88,82.11 L222.31,82.49 L222.73,82.87 L223.15,83.23 L223.56,83.6 L223.97,83.96 L224.37,84.31 L224.77,84.66 L225.16,85 L225.55,85.34 L225.94,85.67 L226.32,86 L226.7,86.32 L227.07,86.64 L227.45,86.95 L227.81,87.26 L228.18,87.57 L228.54,87.87 L228.9,88.16 L229.25,88.45 L229.6,88.74 L229.95,89.02 L230.29,89.3 L230.63,89.57 L230.97,89.84 L231.3,90.11 L231.64,90.37 L231.97,90.62 L232.29,90.87 L232.62,91.12 L232.94,91.37 L233.25,91.61 L233.57,91.84 L233.88,92.07 L234.19,92.3 L234.5,92.52 L234.8,92.74 L235.11,92.96 L235.41,93.17 L235.71,93.38 L236.01,93.59 L236.31,93.8 L236.61,94 L236.91,94.21 L237.21,94.41 L237.51,94.6 L237.81,94.8 L238.11,94.99 L238.41,95.18 L238.71,95.37 L239.01,95.56 L239.31,95.74 L239.61,95.92 L239.91,96.1 L240.21,96.28 L240.51,96.46 L240.81,96.63 L241.11,96.8 L241.41,96.97 L241.71,97.14 L242.01,97.31 L242.31,97.47 L242.61,97.63 L242.91,97.79 L243.21,97.95 L243.51,98.11 L243.81,98.26 L244.11,98.41 L244.41,98.56 L244.71,98.71 L245.01,98.86 L245.31,99 L245.61,99.15 L245.91,99.29 L246.21,99.43 L246.51,99.56 L246.81,99.7 L247.11,99.83 L247.41,99.96 L247.71,100.09 L248.01,100.22 L248.31,100.35 L248.61,100.48 L248.91,100.6 L249.21,100.72 L249.51,100.84 L249.81,100.96 L250.11,101.08 L250.41,101.19 L250.71,101.31 L251.01,101.42 L251.31,101.53 L251.61,101.64 L251.91,101.75 L252.21,101.85 L252.51,101.96 L252.81,102.06 L253.11,102.17 L253.41,102.27 L253.71,102.37 L254.01,102.46 L254.31,102.56 L254.61,102.65 L254.91,102.75 L255.21,102.84 L255.51,102.93 L255.81,103.02 L256.11,103.11 L256.41,103.2 L256.71,103.28 L257.01,103.37 L257.31,103.45 L257.61,103.53 L257.91,103.61 L258.21,103.69 L258.51,103.77 L258.81,103.85 L259.11,103.93 L259.41,104 L259.71,104.08 L260.01,104.15 L260.31,104.22 L260.61,104.29 L260.91,104.36 L261.21,104.43 L261.51,104.5 L261.81,104.57 L262.11,104.63 L262.41,104.7 L262.71,104.76 L263.01,104.83 L263.31,104.89 L263.61,104.95 L263.91,105.01 L264.21,105.07 L264.51,105.13 L264.81,105.19 L265.11,105.24 L265.41,105.3 L265.71,105.35 L266.01,105.41 L266.31,105.46 L266.61,105.52 L266.91,105.57 L267.21,105.62 L267.51,105.67 L267.81,105.72 L268.11,105.77 L268.41,105.82 L268.71,105.87 L269.01,105.92 L269.31,105.96 L269.61,106.01 L269.91,106.06 L270.21,106.1 L270.51,106.15 L270.81,106.19 L271.11,106.24 L271.41,106.28 L271.71,106.32 L272.01,106.36 L272.31,106.4 L272.61,106.45 L272.91,106.49 L273.21,106.53 L273.51,106.57 L273.81,106.6 L274.11,106.64 L274.41,106.68 L274.71,106.72 L275.01,106.76 L275.31,106.79 L275.61,106.83 L275.91,106.86 L276.21,106.9 L276.51,106.93 L276.81,106.97 L277.11,107 L277.41,107.03 L277.71,107.07 L278.01,107.1 L278.31,107.13 L278.61,107.16 L278.91,107.19 L279.21,107.22 L279.51,107.25 L279.81,107.28 L280.11,107.31 L280.41,107.34 L280.71,107.37 L281.01,107.4 L281.31,107.42 L281.61,107.45 L281.91,107.48 L282.21,107.5 L282.51,107.53 L282.81,107.55 L283.11,107.58 L283.41,107.6 L283.71,107.63 L284.01,107.65 L284.31,107.67 L284.61,107.7 L284.91,107.72 L285.21,107.74 L285.51,107.76 L285.81,107.78 L286.11,107.81 L286.41,107.83 L286.71,107.85 L287.01,107.87 L287.31,107.89 L287.61,107.91 L287.91,107.93 L288.21,107.94 L288.51,107.96 L288.81,107.98 L289.11,108 L289.41,108.02 L289.71,108.03 L290.01,108.05 L290.31,108.07 L290.61,108.08 L290.91,108.1 L291.21,108.11 L291.51,108.13 L291.81,108.15 L292.11,108.16 L292.41,108.17 L292.71,108.19 L293.01,108.2 L293.31,108.22 L293.61,108.23 L293.91,108.24 L294.21,108.26 L294.51,108.27 L294.81,108.28 L295.11,108.29 L295.41,108.31 L295.71,108.32 L296.01,108.33 L296.31,108.34 L296.61,108.35 L296.91,108.36 L297.21,108.37 L297.51,108.38 L297.81,108.39 L298.11,108.4 L298.41,108.41 L298.71,108.42 L299.01,108.43 L299.31,108.44 L299.61,108.45 L299.91,108.46 L300.21,108.47 L300.51,108.48 L300.81,108.49 L301.11,108.5 L301.41,108.5 L301.71,108.51 L302.01,108.52 L302.31,108.53 L302.61,108.54 L302.91,108.54 L303.21,108.55 L303.51,108.56 L303.81,108.56 L304.11,108.57 L304.41,108.58 L304.71,108.58 L305.01,108.59 L305.31,108.6 L305.61,108.6 L305.91,108.61 L306.21,108.62 L306.51,108.62 L306.81,108.63 L307.11,108.63 L307.41,108.64 L307.71,108.65 L308.01,108.65 L308.31,108.66 L308.61,108.66 L308.91,108.67 L309.21,108.67 L309.51,108.68 L309.81,108.69 L310.11,108.69 L310.41,108.7 L310.71,108.7 L311.01,108.71 L311.31,108.71 L311.61,108.72 L311.91,108.72 L312.21,108.73 L312.51,108.73 L312.81,108.74 L313.11,108.74 L313.41,108.75 L313.71,108.75 L314.01,108.76 L314.31,108.76 L314.61,108.77 L314.91,108.77 L315.21,108.78 L315.51,108.78 L315.81,108.79 L316.11,108.79 L316.41,108.8 L316.71,108.81 L317.01,108.81 L317.31,108.82 L317.61,108.82 L317.91,108.83 L318.21,108.83 L318.51,108.84 L318.81,108.84 L319.11,108.85 L319.41,108.85 L319.71,108.86 L320.01,108.87 L320.31,108.87 L320.61,108.88 L320.91,108.88 L321.21,108.89 L321.51,108.89 L321.81,108.9 L322.11,108.91 L322.41,108.91 L322.71,108.92 L323.01,108.92 L323.31,108.93 L323.61,108.93 L323.91,108.94 L324.21,108.95 L324.51,108.95 L324.81,108.96 L325.11,108.96 L325.41,108.97 L325.71,108.98 L326.01,108.98 L326.31,108.99 L326.61,108.99 L326.91,109 L327.21,109.01 L327.51,109.01 L327.81,109.02 L328.11,109.02 L328.41,109.03 L328.71,109.04 L329.01,109.04 L329.31,109.05 L329.61,109.06 L329.91,109.06 L330.21,109.07 L330.51,109.07 L330.81,109.08 L331.11,109.09 L331.41,109.09 L331.71,109.1 L332.01,109.11 L332.31,109.11 L332.61,109.12 L332.91,109.13 L333.21,109.13 L333.51,109.14 L333.81,109.15 L334.11,109.15 L334.41,109.16 L334.71,109.17 L335.01,109.17 L335.31,109.18 L335.61,109.19 L335.91,109.19 L336.21,109.2 L336.51,109.21 L336.81,109.21 L337.11,109.22 L337.41,109.23 L337.71,109.23 L338.01,109.24 L338.31,109.25 L338.61,109.25 L338.91,109.26 L339.21,109.27 L339.51,109.27 L339.81,109.28 L340.11,109.29 L340.41,109.29 L340.71,109.3 L341.01,109.31 L341.31,109.31 L341.61,109.32 L341.91,109.33 L342.21,109.34 L342.51,109.34 L342.81,109.35 L343.11,109.36 L343.41,109.36 L343.71,109.37 L344.01,109.38 L344.31,109.39 L344.61,109.39 L344.91,109.4 L345.21,109.41 L345.51,109.41 L345.81,109.42 L346.11,109.43 L346.41,109.44 L346.71,109.44 L347.01,109.45 L347.31,109.46 L347.61,109.46 L347.91,109.47 L348.21,109.48 L348.51,109.49 L348.81,109.49 L349.11,109.5 L349.41,109.51 L349.71,109.51 L350.01,109.52 L350.31,109.53 L350.61,109.54 L350.91,109.54 L351.21,109.55 L351.51,109.56 L351.81,109.57 L352.11,109.57 L352.41,109.58 L352.71,109.59 L353.01,109.6 L353.31,109.6 L353.61,109.61 L353.91,109.62 L354.21,109.63 L354.51,109.63 L354.81,109.64 L355.11,109.65 L355.41,109.66 L355.71,109.66 L356.01,109.67 L356.31,109.68 L356.61,109.69 L356.91,109.69 L357.21,109.7 L357.51,109.71 L357.81,109.72 L358.11,109.72 L358.41,109.73 L358.71,109.74 L359.01,109.75 L359.31,109.75 L359.61,109.76 L359.91,109.77 L360.21,109.78 L360.51,109.79 L360.81,109.79 L361.11,109.8 L361.41,109.81 L361.71,109.82 L362.01,109.82 L362.31,109.83 L362.61,109.84 L362.91,109.85 L363.21,109.85 L363.51,109.86 L363.81,109.87 L364.11,109.88 L364.41,109.89 L364.71,109.89 L365.01,109.9 L365.31,109.91 L365.61,109.92 L365.91,109.92 L366.21,109.93 L366.51,109.94 L366.81,109.95 L367.11,109.96 L367.41,109.96 L367.71,109.97 L368.01,109.98 L368.31,109.99 L368.61,110 L368.91,110 L369.21,110.01 L369.51,110.02 L369.81,110.03 L370.11,110.03 L370.41,110.04 L370.71,110.05 L371.01,110.06 L371.31,110.07 L371.61,110.07 L371.91,110.08 L372.21,110.09 L372.51,110.1 L372.81,110.11 L373.11,110.11 L373.41,110.12 L373.71,110.13 L374.01,110.14 L374.31,110.14 L374.61,110.15 L374.91,110.16 L375.21,110.17 L375.51,110.18 L375.81,110.18 L376.11,110.19 L376.41,110.2 L376.71,110.21 L377.01,110.22 L377.31,110.22 L377.61,110.23 L377.91,110.24 L378.21,110.25 L378.51,110.26 L378.81,110.26 L379.11,110.27 L379.41,110.28 L379.71,110.29 L380.01,110.3 L380.31,110.3 L380.61,110.31 L380.91,110.32 L381.21,110.33 L381.51,110.33 L381.81,110.34 L382.11,110.35 L382.41,110.36 L382.71,110.37 L383.01,110.37 L383.31,110.38 L383.61,110.39 L383.91,110.4 L384.21,110.41 L384.51,110.41 L384.81,110.42 L385.11,110.43 L385.41,110.44 L385.71,110.45 L386.01,110.45 L386.31,110.46 L386.61,110.47 L386.91,110.48 L387.21,110.48 L387.51,110.49 L387.81,110.5 L388.11,110.51 L388.41,110.52 L388.71,110.52 L389.01,110.53 L389.31,110.54 L389.61,110.55 L389.91,110.56 L390.21,110.56 L390.51,110.57 L390.81,110.58 L391.11,110.59 L391.41,110.6 L391.71,110.6 L392.01,110.61 L392.31,110.62 L392.61,110.63 L392.91,110.63 L393.21,110.64 L393.51,110.65 L393.81,110.66 L394.11,110.67 L394.41,110.67 L394.71,110.68 L395.01,110.69 L395.31,110.7 L395.61,110.7 L395.91,110.71 L396.21,110.72 L396.51,110.73 L396.81,110.74 L397.11,110.74 L397.41,110.75 L397.71,110.76 L398.01,110.77 L398.31,110.77 L398.61,110.78 L398.91,110.79 L399.21,110.8 L399.51,110.8 L399.81,110.81 L400.11,110.82 L400.41,110.83 L400.71,110.84 L401.01,110.84 L401.31,110.85 L401.61,110.86 L401.91,110.87 L402.21,110.87 L402.51,110.88 L402.81,110.89 L403.11,110.9 L403.41,110.9 L403.71,110.91 L404.01,110.92 L404.31,110.93 L404.61,110.93 L404.91,110.94 L405.21,110.95 L405.51,110.96 L405.81,110.96 L406.11,110.97 L406.41,110.98 L406.71,110.99 L407.01,110.99 L407.31,111 L407.61,111.01 L407.91,111.02 L408.21,111.02 L408.51,111.03 L408.81,111.04 L409.11,111.05 L409.41,111.05 L409.71,111.06 L410.01,111.07 L410.31,111.08 L410.61,111.08 L410.91,111.09 L411.21,111.1 L411.51,111.11 L411.81,111.11 L412.11,111.12 L412.41,111.13 L412.71,111.13 L413.01,111.14 L413.31,111.15 L413.61,111.16 L413.91,111.16 L414.21,111.17 L414.51,111.18 L414.81,111.18 L415.11,111.19 L415.41,111.2 L415.71,111.21 L416.01,111.21 L416.31,111.22 L416.61,111.23 L416.91,111.23 L417.21,111.24 L417.51,111.25 L417.81,111.26 L418.11,111.26 L418.41,111.27 L418.71,111.28 L419.01,111.28 L419.31,111.29 L419.61,111.3 L419.91,111.3 L420.21,111.31 L420.51,111.32 L420.81,111.33 L421.11,111.33 L421.41,111.34 L421.71,111.35 L422.01,111.35 L422.31,111.36 L422.61,111.37 L422.91,111.37 L423.21,111.38 L423.51,111.39 L423.81,111.39 L424.11,111.4 L424.41,111.41 L424.71,111.41 L425.01,111.42 L425.31,111.43 L425.61,111.43 L425.91,111.44 L426.21,111.45 L426.51,111.45 L426.81,111.46 L427.11,111.47 L427.41,111.47 L427.71,111.48 L428.01,111.49 L428.31,111.49 L428.61,111.5 L428.91,111.5 L429.21,111.51 L429.51,111.52 L429.81,111.52 L430.11,111.53 L430.41,111.54 L430.71,111.54 L431.01,111.55 L431.31,111.56 L431.61,111.56 L431.91,111.57 L432.21,111.57 L432.51,111.58 L432.81,111.59 L433.11,111.59 L433.41,111.6 L433.71,111.6 L434.01,111.61 L434.31,111.62 L434.61,111.62 L434.91,111.63 L435.21,111.63 L435.51,111.64 L435.81,111.65 L436.11,111.65 L436.41,111.66 L436.71,111.66 L437.01,111.67 L437.31,111.68 L437.61,111.68 L437.91,111.69 L438.21,111.69 L438.51,111.7 L438.81,111.71 L439.11,111.71 L439.41,111.72 L439.71,111.72 L440.01,111.73 L440.31,111.73 L440.61,111.74 L440.91,111.74 L441.21,111.75 L441.51,111.76 L441.81,111.76 L442.11,111.77 L442.41,111.77 L442.71,111.78 L443.01,111.78 L443.31,111.79 L443.61,111.79 L443.91,111.8 L444.21,111.8 L444.51,111.81 L444.81,111.81 L445.11,111.82 L445.41,111.83 L445.71,111.83 L446.01,111.84 L446.31,111.84 L446.61,111.85 L446.91,111.85 L447.21,111.86 L447.51,111.86 L447.81,111.87 L448.11,111.87 L448.41,111.88 L448.71,111.88 L449.01,111.89 L449.31,111.89 L449.61,111.9 L449.91,111.9 L450.21,111.91 L450.51,111.91 L450.81,111.91 L451.11,111.92 L451.41,111.92 L451.71,111.93 L452.01,111.93 L452.31,111.94 L452.61,111.94 L452.91,111.95 L453.21,111.95 L453.51,111.96 L453.81,111.96 L454.11,111.97 L454.41,111.97 L454.71,111.97 L455.01,111.98 L455.31,111.98 L455.61,111.99 L455.91,111.99 L456.21,112 L456.51,112 L456.81,112 L457.11,112.01 L457.41,112.01 L457.71,112.02 L458.01,112.02 L458.31,112.02 L458.61,112.03 L458.91,112.03 L459.21,112.04 L459.51,112.04 L459.81,112.04 L460.11,112.05 L460.41,112.05 L460.71,112.06 L461.01,112.06 L461.31,112.06 L461.61,112.07 L461.91,112.07 L462.21,112.07 L462.51,112.08 L462.81,112.08 L463.11,112.09 L463.41,112.09 L463.71,112.09 L464.01,112.1 L464.31,112.1 L464.61,112.1 L464.91,112.11 L465.21,112.11 L465.51,112.11 L465.81,112.12 L466.11,112.12 L466.41,112.12 L466.71,112.13 L467.01,112.13 L467.31,112.13 L467.61,112.13 L467.91,112.14 L468.21,112.14 L468.51,112.14 L468.81,112.15 L469.11,112.15 L469.41,112.15 L469.71,112.15 L470.01,112.16 L470.31,112.16 L470.61,112.16 L470.91,112.17 L471.21,112.17 L471.51,112.17 L471.81,112.17 L472.11,112.18 L472.41,112.18 L472.71,112.18 L473.01,112.18 L473.31,112.19 L473.61,112.19 L473.91,112.19 L474.21,112.19 L474.4,112.19" fill="none" stroke="#000" stroke-width="2" stroke-linejoin="round" stroke-linecap="butt"/>
<path d="M288,106.95 L288.4,106.98 L288.8,106.99 L289.2,107.02 L289.6,107.03 L290,107.06 L290.4,107.08 L290.8,107.06 L291.2,107.12 L291.6,107.11 L292,107.15 L292.4,107.17 L292.8,107.18 L293.2,107.16 L293.6,107.22 L294,107.12 L294.4,107.24 L294.8,107.26 L295.2,107.27 L295.6,107.18 L296,107.3 L296.4,107.31 L296.8,107.32 L297.2,107.15 L297.6,107.35 L298,107.36 L298.4,107.23 L298.8,107.38 L299.2,107.39 L299.6,107.4 L300,107.4 L300.4,107.42 L300.8,107.42 L301.2,107.4 L301.6,107.44 L302,107.33 L302.4,107.46 L302.8,107.47 L303.2,107.48 L303.6,107.49 L304,107.49 L304.4,107.5 L304.8,107.51 L305.2,107.08 L305.6,107.52 L306,107.53 L306.4,107.48 L306.8,107.54 L307.2,107.55 L307.6,107.32 L308,107.39 L308.4,107.56 L308.8,107.49 L309.2,107.34 L309.6,107.57 L310,107.59 L310.4,107.6 L310.8,107.6 L311.2,107.46 L311.6,106.9 L312,107.62 L312.4,107.36 L312.8,107.63 L313.2,107.38 L313.6,107.64 L314,107.64 L314.4,107.55 L314.8,107.52 L315.2,107.47 L315.6,107.42 L316,107.41 L316.4,107.12 L316.8,107.54 L317.2,107.48 L317.6,107.19 L318,107.07 L318.4,107.53 L318.8,107.71 L319.2,107.67 L319.6,107.72 L320,107.62 L320.4,107.74 L320.8,107.19 L321.2,107.66 L321.6,107.18 L322,107.76 L322.4,107.58 L322.8,107.77 L323.2,107.78 L323.6,107 L324,107.78 L324.4,107.64 L324.8,107.13 L325.2,107.81 L325.6,107.55 L326,107.82 L326.4,107.72 L326.8,107.55 L327.2,107.85 L327.6,107.44 L328,107.86 L328.4,107.8 L328.8,107.39 L329.2,107.68 L329.6,107.67 L330,107.89 L330.4,107.9 L330.8,107.9 L331.2,107.91 L331.6,107.92 L332,107.26 L332.4,107.94 L332.8,107.8 L333.2,107.95 L333.6,107.67 L334,106.99 L334.4,107.5 L334.8,107.98 L335.2,107.46 L335.6,108 L336,108 L336.4,107.54 L336.8,107.67 L337.2,108.03 L337.6,107.96 L338,107.17 L338.4,107.58 L338.8,108.06 L339.2,108.07 L339.6,108.07 L340,108.08 L340.4,108 L340.8,108.1 L341.2,108.1 L341.6,107.98 L342,108.12 L342.4,107.89 L342.8,108.14 L343.2,108.15 L343.6,108.15 L344,108.16 L344.4,108.17 L344.8,108.05 L345.2,107.44 L345.6,107.98 L346,107.46 L346.4,107.6 L346.8,107.99 L347.2,107.66 L347.6,107.9 L348,107.75 L348.4,108.25 L348.8,108.17 L349.2,108.27 L349.6,108.28 L350,108.09 L350.4,107.8 L350.8,108.3 L351.2,108.28 L351.6,107.99 L352,108.09 L352.4,107.69 L352.8,107.7 L353.2,108.22 L353.6,108.37 L354,108 L354.4,108.06 L354.8,107.97 L355.2,107.83 L355.6,107.95 L356,108.22 L356.4,108.09 L356.8,108.17 L357.2,108.29 L357.6,108.32 L358,107.94 L358.4,108.42 L358.8,107.99 L359.2,106.56 L359.6,108.19 L360,108.49 L360.4,108.02 L360.8,108.53 L361.2,107.73 L361.6,108.14 L362,108.41 L362.4,108.57 L362.8,108.58 L363.2,108.09 L363.6,108.3 L364,108.32 L364.4,108.62 L364.8,107.93 L365.2,108.45 L365.6,108.37 L366,108.51 L366.4,108.56 L366.8,108.38 L367.2,108.53 L367.6,107.96 L368,108.68 L368.4,108.71 L368.8,108.11 L369.2,108.49 L369.6,108.56 L370,108.75 L370.4,107.93 L370.8,108.03 L371.2,108.55 L371.6,108.7 L372,108.24 L372.4,108.38 L372.8,108.53 L373.2,108.66 L373.6,107.73 L374,108.66 L374.4,108.77 L374.8,108.68 L375.2,108.39 L375.6,108.58 L376,108.36 L376.4,108.82 L376.8,108.26 L377.2,108.54 L377.6,108.3 L378,108.29 L378.4,108.61 L378.8,108.48 L379.2,108.74 L379.6,108.63 L380,108.86 L380.4,108.45 L380.8,108.65 L381.2,108.05 L381.6,108.1 L382,108.72 L382.4,108.76 L382.8,108.62 L383.2,108.95 L383.6,108.47 L384,108.83 L384.4,108.85 L384.8,108.73 L385.2,108.77 L385.6,108.46 L386,108.58 L386.4,108.78 L386.8,108.97 L387.2,108.61 L387.6,108.66 L388,108.91 L388.4,108.96 L388.8,108.65 L389.2,109.12 L389.6,108.23 L390,108.64 L390.4,109.07 L390.8,108.87 L391.2,109.26 L391.6,108.9 L392,108.94 L392.4,109.09 L392.8,109.04 L393.2,109.1 L393.6,109.25 L394,108.85 L394.4,109.01 L394.8,109.07 L395.2,109.28 L395.6,109.32 L396,108.76 L396.4,108.94 L396.8,108.99 L397.2,108.69 L397.6,109 L398,109.32 L398.4,109.35 L398.8,109.23 L399.2,109.26 L399.6,108.96 L400,109.28 L400.4,109.36 L400.8,109.37 L401.2,108.72 L401.6,109.13 L402,109.11 L402.4,109.37 L402.8,109.22 L403.2,109.53 L403.6,109.48 L404,108.63 L404.4,108.8 L404.8,109.17 L405.2,109.43 L405.6,109.3 L406,109.53 L406.4,109.4 L406.8,109.62 L407.2,109.25 L407.6,109.02 L408,109.14 L408.4,109.5 L408.8,109.09 L409.2,109.53 L409.6,109.22 L410,109.49 L410.4,109.3 L410.8,109.71 L411.2,109.38 L411.6,109.48 L412,109.47 L412.4,108.93 L412.8,108.95 L413.2,109.67 L413.6,109.37 L414,109.27 L414.4,109.68 L414.8,108.97 L415.2,109.25 L415.6,109.45 L416,109.27 L416.4,109.37 L416.8,109.54 L417.2,109.7 L417.6,109.77 L418,109.5 L418.4,109.65 L418.8,109.59 L419.2,109.84 L419.6,109.16 L420,109.75 L420.4,108.93 L420.8,109.77 L421.2,109.82 L421.6,109.79 L422,109.92 L422.4,109.6 L422.8,109.36 L423.2,109.68 L423.6,109.69 L424,109.85 L424.4,109.49 L424.8,109.43 L425.2,108.97 L425.6,109.65 L426,109.85 L426.4,109.86 L426.8,109.73 L427.2,109.98 L427.6,109.84 L428,109.18 L428.4,109.95 L428.8,109.98 L429.2,109.62 L429.6,109.76 L430,109.83 L430.4,109.87 L430.8,110.08 L431.2,109.81 L431.6,109.84 L432,109.42 L432.4,109.97 L432.8,110.02 L433.2,109.78 L433.6,110.09 L434,109.87 L434.4,109.82 L434.8,109.44 L435.2,109.87 L435.6,109.7 L436,110.16 L436.4,109.8 L436.8,109.88 L437.2,109.72 L437.6,109.26 L438,110.11 L438.4,110.12 L438.8,110.19 L439.2,108.82 L439.6,109.67 L440,110.23 L440.4,110 L440.8,110.02 L441.2,109.81 L441.6,109.75 L442,110.1 L442.4,109.71 L442.8,109.59 L443.2,110.1 L443.6,109.9 L444,109.72 L444.4,110.23 L444.8,110.15 L445.2,110.27 L445.6,110.1 L446,109.9 L446.4,110.02 L446.8,109.85 L447.2,110.11 L447.6,110.03 L448,110.28 L448.4,110.01 L448.8,110.2 L449.2,109.23 L449.6,110.27 L450,110.14 L450.4,109.93 L450.8,110.09 L451.2,110.37 L451.6,110.3 L452,110.23 L452.4,110.08 L452.8,110.11 L453.2,110.29 L453.6,110.25 L454,110.09 L454.4,110.13 L454.8,109.25 L455.2,110.09 L455.6,110.14 L456,110.35 L456.4,110.37 L456.8,110.1 L457.2,110.21 L457.6,110.4 L458,110.44 L458.4,109.8 L458.8,110.23 L459.2,110.35 L459.6,109.89 L460,110.34 L460.4,109.72 L460.8,110.34 L461.2,110.34 L461.6,110.44 L462,110.1 L462.4,110.32 L462.8,110.4 L463.2,110.17 L463.6,110.34 L464,110.46 L464.4,110.4 L464.8,110.42 L465.2,110.39 L465.6,110.35 L466,110.5 L466.4,110.18 L466.8,110.07 L467.2,110.06 L467.6,110.44 L468,110.52 L468.4,110.48 L468.8,110.52 L469.2,110.52 L469.6,110.51 L470,110.26 L470.4,110.22 L470.8,110.3 L471.2,110.19 L471.6,109.89 L472,110.18 L472.4,110.21 L472.8,110.5 L473.2,110.38 L473.6,110.59 L474,110.55 L474.4,110.86 L474.4,113.72 L474,113.8 L473.6,113.86 L473.2,114.14 L472.8,114.43 L472.4,114.33 L472,114.4 L471.6,113.95 L471.2,113.93 L470.8,113.84 L470.4,114.05 L470,114.43 L469.6,113.97 L469.2,114.01 L468.8,113.98 L468.4,113.9 L468,114.1 L467.6,114.14 L467.2,113.83 L466.8,113.76 L466.4,114.43 L466,114.04 L465.6,113.82 L465.2,114.34 L464.8,114.26 L464.4,113.94 L464,114.08 L463.6,113.82 L463.2,114.24 L462.8,113.69 L462.4,114.11 L462,113.76 L461.6,113.98 L461.2,113.75 L460.8,114.3 L460.4,113.84 L460,113.76 L459.6,114.4 L459.2,113.9 L458.8,113.67 L458.4,113.61 L458,113.7 L457.6,114.28 L457.2,114.14 L456.8,114.21 L456.4,113.75 L456,113.57 L455.6,113.99 L455.2,113.82 L454.8,113.86 L454.4,114 L454,113.86 L453.6,113.83 L453.2,113.74 L452.8,113.72 L452.4,114.1 L452,113.83 L451.6,113.67 L451.2,113.84 L450.8,113.56 L450.4,113.58 L450,113.55 L449.6,113.8 L449.2,113.59 L448.8,113.45 L448.4,113.63 L448,113.47 L447.6,113.88 L447.2,113.57 L446.8,113.52 L446.4,113.48 L446,113.65 L445.6,113.56 L445.2,114.03 L444.8,113.41 L444.4,113.74 L444,113.81 L443.6,114.19 L443.2,114.31 L442.8,113.52 L442.4,113.47 L442,113.38 L441.6,113.75 L441.2,113.41 L440.8,113.79 L440.4,113.89 L440,113.76 L439.6,113.86 L439.2,113.59 L438.8,113.69 L438.4,113.41 L438,113.41 L437.6,113.84 L437.2,113.26 L436.8,113.2 L436.4,113.6 L436,113.62 L435.6,113.26 L435.2,113.33 L434.8,113.67 L434.4,113.6 L434,113.51 L433.6,113.27 L433.2,113.25 L432.8,113.42 L432.4,113.12 L432,113.16 L431.6,113.37 L431.2,113.46 L430.8,113.76 L430.4,113.03 L430,113.28 L429.6,113.6 L429.2,113.36 L428.8,113.48 L428.4,113.64 L428,113.63 L427.6,113.23 L427.2,113.38 L426.8,112.92 L426.4,113.06 L426,112.91 L425.6,112.96 L425.2,112.96 L424.8,113.38 L424.4,113.15 L424,112.91 L423.6,113.09 L423.2,112.88 L422.8,113.16 L422.4,112.88 L422,113.23 L421.6,113.72 L421.2,112.84 L420.8,112.83 L420.4,113.19 L420,113.14 L419.6,112.95 L419.2,112.9 L418.8,112.76 L418.4,112.76 L418,113.05 L417.6,112.95 L417.2,112.84 L416.8,112.89 L416.4,113.44 L416,112.7 L415.6,112.62 L415.2,112.73 L414.8,112.78 L414.4,112.91 L414,112.71 L413.6,112.87 L413.2,113.08 L412.8,112.72 L412.4,112.73 L412,112.92 L411.6,112.53 L411.2,112.63 L410.8,112.61 L410.4,112.82 L410,113.15 L409.6,112.59 L409.2,113.69 L408.8,112.7 L408.4,112.61 L408,112.41 L407.6,112.64 L407.2,113.13 L406.8,112.39 L406.4,112.43 L406,113.03 L405.6,112.88 L405.2,112.36 L404.8,112.66 L404.4,112.36 L404,113.02 L403.6,112.4 L403.2,113.55 L402.8,112.59 L402.4,112.47 L402,112.23 L401.6,112.43 L401.2,112.58 L400.8,112.3 L400.4,112.53 L400,112.22 L399.6,112.53 L399.2,112.17 L398.8,112.67 L398.4,112.85 L398,112.18 L397.6,112.83 L397.2,112.13 L396.8,112.1 L396.4,112.19 L396,112.44 L395.6,112.38 L395.2,112.06 L394.8,112.17 L394.4,112.62 L394,112.08 L393.6,112.31 L393.2,112.31 L392.8,112.15 L392.4,112.68 L392,112.5 L391.6,111.96 L391.2,112.02 L390.8,112.28 L390.4,111.96 L390,112.21 L389.6,112.09 L389.2,112.21 L388.8,111.99 L388.4,112.36 L388,111.89 L387.6,112.75 L387.2,111.96 L386.8,112.29 L386.4,111.95 L386,112.22 L385.6,111.79 L385.2,111.95 L384.8,111.73 L384.4,112.4 L384,111.71 L383.6,112.33 L383.2,112.17 L382.8,111.87 L382.4,112.19 L382,112.19 L381.6,111.88 L381.2,111.83 L380.8,112.04 L380.4,112.03 L380,112.07 L379.6,112.18 L379.2,112.04 L378.8,111.55 L378.4,112.13 L378,111.53 L377.6,112.6 L377.2,112.44 L376.8,111.5 L376.4,112.22 L376,111.58 L375.6,111.79 L375.2,111.48 L374.8,111.63 L374.4,111.8 L374,111.98 L373.6,111.45 L373.2,111.58 L372.8,112.21 L372.4,111.37 L372,111.45 L371.6,111.67 L371.2,111.74 L370.8,111.71 L370.4,111.64 L370,111.3 L369.6,111.3 L369.2,111.28 L368.8,111.88 L368.4,111.52 L368,111.24 L367.6,111.91 L367.2,111.67 L366.8,111.55 L366.4,111.2 L366,111.73 L365.6,111.71 L365.2,111.91 L364.8,111.48 L364.4,111.14 L364,111.57 L363.6,111.44 L363.2,111.58 L362.8,112.04 L362.4,111.35 L362,112.13 L361.6,111.51 L361.2,111.05 L360.8,111.46 L360.4,111.29 L360,111.4 L359.6,111.45 L359.2,112.02 L358.8,111.5 L358.4,111.63 L358,111.96 L357.6,110.99 L357.2,110.93 L356.8,111.08 L356.4,110.96 L356,111.32 L355.6,110.89 L355.2,110.92 L354.8,110.87 L354.4,111.53 L354,111.09 L353.6,110.97 L353.2,111.38 L352.8,111.12 L352.4,111.45 L352,110.79 L351.6,111.43 L351.2,110.77 L350.8,110.81 L350.4,111 L350,111.25 L349.6,110.83 L349.2,111.11 L348.8,111.29 L348.4,110.98 L348,110.68 L347.6,110.94 L347.2,110.95 L346.8,110.65 L346.4,111.32 L346,111.24 L345.6,110.82 L345.2,110.69 L344.8,110.6 L344.4,110.98 L344,110.75 L343.6,110.99 L343.2,110.55 L342.8,110.59 L342.4,110.64 L342,110.52 L341.6,111.22 L341.2,110.5 L340.8,110.62 L340.4,111.23 L340,110.74 L339.6,110.76 L339.2,111.01 L338.8,111.2 L338.4,110.49 L338,110.46 L337.6,110.52 L337.2,110.4 L336.8,110.39 L336.4,110.77 L336,110.37 L335.6,110.51 L335.2,110.35 L334.8,111.07 L334.4,110.33 L334,110.32 L333.6,110.51 L333.2,110.72 L332.8,110.29 L332.4,110.28 L332,110.27 L331.6,110.83 L331.2,110.3 L330.8,110.6 L330.4,110.41 L330,110.22 L329.6,110.78 L329.2,110.2 L328.8,110.42 L328.4,110.61 L328,110.52 L327.6,110.25 L327.2,110.24 L326.8,110.15 L326.4,110.14 L326,110.13 L325.6,110.28 L325.2,110.11 L324.8,110.4 L324.4,110.44 L324,110.33 L323.6,110.08 L323.2,110.07 L322.8,110.45 L322.4,110.34 L322,110.04 L321.6,110.56 L321.2,110.03 L320.8,110.08 L320.4,110.01 L320,110.12 L319.6,110.13 L319.2,110.53 L318.8,109.97 L318.4,109.98 L318,109.96 L317.6,110.04 L317.2,110.15 L316.8,109.93 L316.4,110 L316,109.92 L315.6,109.97 L315.2,110.14 L314.8,110.12 L314.4,110.36 L314,109.88 L313.6,109.89 L313.2,109.95 L312.8,109.98 L312.4,110 L312,109.86 L311.6,109.9 L311.2,109.82 L310.8,109.89 L310.4,109.81 L310,109.8 L309.6,109.79 L309.2,109.78 L308.8,109.78 L308.4,109.8 L308,109.76 L307.6,109.84 L307.2,110.12 L306.8,109.73 L306.4,109.9 L306,109.89 L305.6,109.83 L305.2,109.7 L304.8,109.69 L304.4,109.77 L304,109.67 L303.6,109.87 L303.2,109.78 L302.8,109.64 L302.4,109.82 L302,109.61 L301.6,109.72 L301.2,109.59 L300.8,109.58 L300.4,109.57 L300,109.8 L299.6,109.66 L299.2,109.62 L298.8,109.65 L298.4,109.5 L298,109.48 L297.6,109.47 L297.2,109.45 L296.8,109.43 L296.4,109.42 L296,109.4 L295.6,109.38 L295.2,109.36 L294.8,109.34 L294.4,109.32 L294,109.44 L293.6,109.29 L293.2,109.26 L292.8,109.3 L292.4,109.22 L292,109.2 L291.6,109.18 L291.2,109.16 L290.8,109.16 L290.4,109.11 L290,109.11 L289.6,109.06 L289.2,109.04 L288.8,109.02 L288.4,108.98 L288,108.95Z" fill="#000" stroke="none"/>
<line x1="426.3" y1="282" x2="478.8" y2="306.3" stroke="#ff0000" stroke-width="1.8" stroke-dasharray="7.4,5"/>
<text x="440.8" y="283.9" font-size="18.4" fill="#ff0000">-0.25</text>
<rect x="243" y="29" width="225.4" height="53.1" fill="#fff" stroke="#000" stroke-width="1"/>
<line x1="249" y1="39.65" x2="271" y2="39.65" stroke="#000" stroke-width="2" />
<text x="281.4" y="45.15" font-size="15.22">all</text>
<line x1="249" y1="55.9" x2="271" y2="55.9" stroke="#ff0000" stroke-width="2" />
<text x="281.4" y="61.15" font-size="15.22">from reactions between teams</text>
<line x1="249" y1="72.15" x2="271" y2="72.15" stroke="#00ff00" stroke-width="2" />
<text x="281.4" y="77.15" font-size="15.22">from in-team reactions</text>
<text transform="translate(43.9,349.1) scale(0.885,1)" font-size="17">10<tspan font-size="11.8" dy="-8.9" dx="-0.3">0</tspan></text>
<text transform="translate(130.65,349.1) scale(0.885,1)" font-size="17">10<tspan font-size="11.8" dy="-8.9" dx="-0.3">1</tspan></text>
<text transform="translate(217.4,349.1) scale(0.885,1)" font-size="17">10<tspan font-size="11.8" dy="-8.9" dx="-0.3">2</tspan></text>
<text transform="translate(304.15,349.1) scale(0.885,1)" font-size="17">10<tspan font-size="11.8" dy="-8.9" dx="-0.3">3</tspan></text>
<text transform="translate(390.9,349.1) scale(0.885,1)" font-size="17">10<tspan font-size="11.8" dy="-8.9" dx="-0.3">4</tspan></text>
<text transform="translate(477.65,349.1) scale(0.885,1)" font-size="17">10<tspan font-size="11.8" dy="-8.9" dx="-0.3">5</tspan></text>
<text transform="translate(25,118.6) scale(0.885,1)" font-size="17">10<tspan font-size="11.8" dy="-9.2" dx="-0.8">-1</tspan></text>
<text transform="translate(25,298) scale(0.885,1)" font-size="17">10<tspan font-size="11.8" dy="-9.2" dx="-0.8">-2</tspan></text>
<text x="267.8" y="365.8" font-size="19">t</text>
<text transform="translate(15.2,246.5) rotate(-90)" font-size="18.8">density of empty sites</text>
<rect x="85.7" y="164.5" width="157.5" height="130" fill="#fff" stroke="#000" stroke-width="2"/>
<line x1="95.18" y1="294.5" x2="95.18" y2="289.3" stroke="#000" stroke-width="1.74" />
<line x1="95.18" y1="164.5" x2="95.18" y2="169.7" stroke="#000" stroke-width="1.74" />
<line x1="100.73" y1="294.5" x2="100.73" y2="289.3" stroke="#000" stroke-width="1.74" />
<line x1="100.73" y1="164.5" x2="100.73" y2="169.7" stroke="#000" stroke-width="1.74" />
<line x1="104.66" y1="294.5" x2="104.66" y2="289.3" stroke="#000" stroke-width="1.74" />
<line x1="104.66" y1="164.5" x2="104.66" y2="169.7" stroke="#000" stroke-width="1.74" />
<line x1="107.72" y1="294.5" x2="107.72" y2="289.3" stroke="#000" stroke-width="1.74" />
<line x1="107.72" y1="164.5" x2="107.72" y2="169.7" stroke="#000" stroke-width="1.74" />
<line x1="110.21" y1="294.5" x2="110.21" y2="289.3" stroke="#000" stroke-width="1.74" />
<line x1="110.21" y1="164.5" x2="110.21" y2="169.7" stroke="#000" stroke-width="1.74" />
<line x1="112.32" y1="294.5" x2="112.32" y2="289.3" stroke="#000" stroke-width="1.74" />
<line x1="112.32" y1="164.5" x2="112.32" y2="169.7" stroke="#000" stroke-width="1.74" />
<line x1="114.15" y1="294.5" x2="114.15" y2="289.3" stroke="#000" stroke-width="1.74" />
<line x1="114.15" y1="164.5" x2="114.15" y2="169.7" stroke="#000" stroke-width="1.74" />
<line x1="115.76" y1="294.5" x2="115.76" y2="289.3" stroke="#000" stroke-width="1.74" />
<line x1="115.76" y1="164.5" x2="115.76" y2="169.7" stroke="#000" stroke-width="1.74" />
<line x1="117.2" y1="294.5" x2="117.2" y2="283.9" stroke="#000" stroke-width="2" />
<line x1="117.2" y1="164.5" x2="117.2" y2="175.1" stroke="#000" stroke-width="2" />
<line x1="126.68" y1="294.5" x2="126.68" y2="289.3" stroke="#000" stroke-width="1.74" />
<line x1="126.68" y1="164.5" x2="126.68" y2="169.7" stroke="#000" stroke-width="1.74" />
<line x1="132.23" y1="294.5" x2="132.23" y2="289.3" stroke="#000" stroke-width="1.74" />
<line x1="132.23" y1="164.5" x2="132.23" y2="169.7" stroke="#000" stroke-width="1.74" />
<line x1="136.16" y1="294.5" x2="136.16" y2="289.3" stroke="#000" stroke-width="1.74" />
<line x1="136.16" y1="164.5" x2="136.16" y2="169.7" stroke="#000" stroke-width="1.74" />
<line x1="139.22" y1="294.5" x2="139.22" y2="289.3" stroke="#000" stroke-width="1.74" />
<line x1="139.22" y1="164.5" x2="139.22" y2="169.7" stroke="#000" stroke-width="1.74" />
<line x1="141.71" y1="294.5" x2="141.71" y2="289.3" stroke="#000" stroke-width="1.74" />
<line x1="141.71" y1="164.5" x2="141.71" y2="169.7" stroke="#000" stroke-width="1.74" />
<line x1="143.82" y1="294.5" x2="143.82" y2="289.3" stroke="#000" stroke-width="1.74" />
<line x1="143.82" y1="164.5" x2="143.82" y2="169.7" stroke="#000" stroke-width="1.74" />
<line x1="145.65" y1="294.5" x2="145.65" y2="289.3" stroke="#000" stroke-width="1.74" />
<line x1="145.65" y1="164.5" x2="145.65" y2="169.7" stroke="#000" stroke-width="1.74" />
<line x1="147.26" y1="294.5" x2="147.26" y2="289.3" stroke="#000" stroke-width="1.74" />
<line x1="147.26" y1="164.5" x2="147.26" y2="169.7" stroke="#000" stroke-width="1.74" />
<line x1="148.7" y1="294.5" x2="148.7" y2="283.9" stroke="#000" stroke-width="2" />
<line x1="148.7" y1="164.5" x2="148.7" y2="175.1" stroke="#000" stroke-width="2" />
<line x1="158.18" y1="294.5" x2="158.18" y2="289.3" stroke="#000" stroke-width="1.74" />
<line x1="158.18" y1="164.5" x2="158.18" y2="169.7" stroke="#000" stroke-width="1.74" />
<line x1="163.73" y1="294.5" x2="163.73" y2="289.3" stroke="#000" stroke-width="1.74" />
<line x1="163.73" y1="164.5" x2="163.73" y2="169.7" stroke="#000" stroke-width="1.74" />
<line x1="167.66" y1="294.5" x2="167.66" y2="289.3" stroke="#000" stroke-width="1.74" />
<line x1="167.66" y1="164.5" x2="167.66" y2="169.7" stroke="#000" stroke-width="1.74" />
<line x1="170.72" y1="294.5" x2="170.72" y2="289.3" stroke="#000" stroke-width="1.74" />
<line x1="170.72" y1="164.5" x2="170.72" y2="169.7" stroke="#000" stroke-width="1.74" />
<line x1="173.21" y1="294.5" x2="173.21" y2="289.3" stroke="#000" stroke-width="1.74" />
<line x1="173.21" y1="164.5" x2="173.21" y2="169.7" stroke="#000" stroke-width="1.74" />
<line x1="175.32" y1="294.5" x2="175.32" y2="289.3" stroke="#000" stroke-width="1.74" />
<line x1="175.32" y1="164.5" x2="175.32" y2="169.7" stroke="#000" stroke-width="1.74" />
<line x1="177.15" y1="294.5" x2="177.15" y2="289.3" stroke="#000" stroke-width="1.74" />
<line x1="177.15" y1="164.5" x2="177.15" y2="169.7" stroke="#000" stroke-width="1.74" />
<line x1="178.76" y1="294.5" x2="178.76" y2="289.3" stroke="#000" stroke-width="1.74" />
<line x1="178.76" y1="164.5" x2="178.76" y2="169.7" stroke="#000" stroke-width="1.74" />
<line x1="180.2" y1="294.5" x2="180.2" y2="283.9" stroke="#000" stroke-width="2" />
<line x1="180.2" y1="164.5" x2="180.2" y2="175.1" stroke="#000" stroke-width="2" />
<line x1="189.68" y1="294.5" x2="189.68" y2="289.3" stroke="#000" stroke-width="1.74" />
<line x1="189.68" y1="164.5" x2="189.68" y2="169.7" stroke="#000" stroke-width="1.74" />
<line x1="195.23" y1="294.5" x2="195.23" y2="289.3" stroke="#000" stroke-width="1.74" />
<line x1="195.23" y1="164.5" x2="195.23" y2="169.7" stroke="#000" stroke-width="1.74" />
<line x1="199.16" y1="294.5" x2="199.16" y2="289.3" stroke="#000" stroke-width="1.74" />
<line x1="199.16" y1="164.5" x2="199.16" y2="169.7" stroke="#000" stroke-width="1.74" />
<line x1="202.22" y1="294.5" x2="202.22" y2="289.3" stroke="#000" stroke-width="1.74" />
<line x1="202.22" y1="164.5" x2="202.22" y2="169.7" stroke="#000" stroke-width="1.74" />
<line x1="204.71" y1="294.5" x2="204.71" y2="289.3" stroke="#000" stroke-width="1.74" />
<line x1="204.71" y1="164.5" x2="204.71" y2="169.7" stroke="#000" stroke-width="1.74" />
<line x1="206.82" y1="294.5" x2="206.82" y2="289.3" stroke="#000" stroke-width="1.74" />
<line x1="206.82" y1="164.5" x2="206.82" y2="169.7" stroke="#000" stroke-width="1.74" />
<line x1="208.65" y1="294.5" x2="208.65" y2="289.3" stroke="#000" stroke-width="1.74" />
<line x1="208.65" y1="164.5" x2="208.65" y2="169.7" stroke="#000" stroke-width="1.74" />
<line x1="210.26" y1="294.5" x2="210.26" y2="289.3" stroke="#000" stroke-width="1.74" />
<line x1="210.26" y1="164.5" x2="210.26" y2="169.7" stroke="#000" stroke-width="1.74" />
<line x1="211.7" y1="294.5" x2="211.7" y2="283.9" stroke="#000" stroke-width="2" />
<line x1="211.7" y1="164.5" x2="211.7" y2="175.1" stroke="#000" stroke-width="2" />
<line x1="221.18" y1="294.5" x2="221.18" y2="289.3" stroke="#000" stroke-width="1.74" />
<line x1="221.18" y1="164.5" x2="221.18" y2="169.7" stroke="#000" stroke-width="1.74" />
<line x1="226.73" y1="294.5" x2="226.73" y2="289.3" stroke="#000" stroke-width="1.74" />
<line x1="226.73" y1="164.5" x2="226.73" y2="169.7" stroke="#000" stroke-width="1.74" />
<line x1="230.66" y1="294.5" x2="230.66" y2="289.3" stroke="#000" stroke-width="1.74" />
<line x1="230.66" y1="164.5" x2="230.66" y2="169.7" stroke="#000" stroke-width="1.74" />
<line x1="233.72" y1="294.5" x2="233.72" y2="289.3" stroke="#000" stroke-width="1.74" />
<line x1="233.72" y1="164.5" x2="233.72" y2="169.7" stroke="#000" stroke-width="1.74" />
<line x1="236.21" y1="294.5" x2="236.21" y2="289.3" stroke="#000" stroke-width="1.74" />
<line x1="236.21" y1="164.5" x2="236.21" y2="169.7" stroke="#000" stroke-width="1.74" />
<line x1="238.32" y1="294.5" x2="238.32" y2="289.3" stroke="#000" stroke-width="1.74" />
<line x1="238.32" y1="164.5" x2="238.32" y2="169.7" stroke="#000" stroke-width="1.74" />
<line x1="240.15" y1="294.5" x2="240.15" y2="289.3" stroke="#000" stroke-width="1.74" />
<line x1="240.15" y1="164.5" x2="240.15" y2="169.7" stroke="#000" stroke-width="1.74" />
<line x1="241.76" y1="294.5" x2="241.76" y2="289.3" stroke="#000" stroke-width="1.74" />
<line x1="241.76" y1="164.5" x2="241.76" y2="169.7" stroke="#000" stroke-width="1.74" />
<line x1="85.7" y1="287.09" x2="91" y2="287.09" stroke="#000" stroke-width="2" />
<line x1="243.2" y1="287.09" x2="237.9" y2="287.09" stroke="#000" stroke-width="2" />
<line x1="85.7" y1="281.15" x2="91" y2="281.15" stroke="#000" stroke-width="2" />
<line x1="243.2" y1="281.15" x2="237.9" y2="281.15" stroke="#000" stroke-width="2" />
<line x1="85.7" y1="276.3" x2="91" y2="276.3" stroke="#000" stroke-width="2" />
<line x1="243.2" y1="276.3" x2="237.9" y2="276.3" stroke="#000" stroke-width="2" />
<line x1="85.7" y1="272.2" x2="91" y2="272.2" stroke="#000" stroke-width="2" />
<line x1="243.2" y1="272.2" x2="237.9" y2="272.2" stroke="#000" stroke-width="2" />
<line x1="85.7" y1="268.64" x2="91" y2="268.64" stroke="#000" stroke-width="2" />
<line x1="243.2" y1="268.64" x2="237.9" y2="268.64" stroke="#000" stroke-width="2" />
<line x1="85.7" y1="265.5" x2="91" y2="265.5" stroke="#000" stroke-width="2" />
<line x1="243.2" y1="265.5" x2="237.9" y2="265.5" stroke="#000" stroke-width="2" />
<line x1="85.7" y1="262.7" x2="96.5" y2="262.7" stroke="#000" stroke-width="2" />
<line x1="243.2" y1="262.7" x2="232.4" y2="262.7" stroke="#000" stroke-width="2" />
<line x1="85.7" y1="244.25" x2="91" y2="244.25" stroke="#000" stroke-width="2" />
<line x1="243.2" y1="244.25" x2="237.9" y2="244.25" stroke="#000" stroke-width="2" />
<line x1="85.7" y1="233.45" x2="91" y2="233.45" stroke="#000" stroke-width="2" />
<line x1="243.2" y1="233.45" x2="237.9" y2="233.45" stroke="#000" stroke-width="2" />
<line x1="85.7" y1="225.79" x2="91" y2="225.79" stroke="#000" stroke-width="2" />
<line x1="243.2" y1="225.79" x2="237.9" y2="225.79" stroke="#000" stroke-width="2" />
<line x1="85.7" y1="219.85" x2="91" y2="219.85" stroke="#000" stroke-width="2" />
<line x1="243.2" y1="219.85" x2="237.9" y2="219.85" stroke="#000" stroke-width="2" />
<line x1="85.7" y1="215" x2="91" y2="215" stroke="#000" stroke-width="2" />
<line x1="243.2" y1="215" x2="237.9" y2="215" stroke="#000" stroke-width="2" />
<line x1="85.7" y1="210.9" x2="91" y2="210.9" stroke="#000" stroke-width="2" />
<line x1="243.2" y1="210.9" x2="237.9" y2="210.9" stroke="#000" stroke-width="2" />
<line x1="85.7" y1="207.34" x2="91" y2="207.34" stroke="#000" stroke-width="2" />
<line x1="243.2" y1="207.34" x2="237.9" y2="207.34" stroke="#000" stroke-width="2" />
<line x1="85.7" y1="204.2" x2="91" y2="204.2" stroke="#000" stroke-width="2" />
<line x1="243.2" y1="204.2" x2="237.9" y2="204.2" stroke="#000" stroke-width="2" />
<line x1="85.7" y1="201.4" x2="96.5" y2="201.4" stroke="#000" stroke-width="2" />
<line x1="243.2" y1="201.4" x2="232.4" y2="201.4" stroke="#000" stroke-width="2" />
<line x1="85.7" y1="182.95" x2="91" y2="182.95" stroke="#000" stroke-width="2" />
<line x1="243.2" y1="182.95" x2="237.9" y2="182.95" stroke="#000" stroke-width="2" />
<line x1="85.7" y1="172.15" x2="91" y2="172.15" stroke="#000" stroke-width="2" />
<line x1="243.2" y1="172.15" x2="237.9" y2="172.15" stroke="#000" stroke-width="2" />
<path d="M85.7,184.6 L95.18,183.33 L100.73,183.46 L104.66,183.91 L107.72,184.47 L110.21,185.06 L112.32,185.65 L114.15,186.2 L115.76,186.69 L117.2,187.14 L118.5,187.53 L119.69,187.9 L120.79,188.25 L121.8,188.59 L122.75,188.93 L123.63,189.26 L124.46,189.59 L125.24,189.92 L125.98,190.26 L126.68,190.6 L127.35,190.94 L127.99,191.29 L128.59,191.63 L129.18,191.98 L129.74,192.33 L130.27,192.67 L130.79,193.02 L131.29,193.36 L131.77,193.7 L132.23,194.04 L132.68,194.37 L133.11,194.71 L133.53,195.03 L133.94,195.36 L134.34,195.68 L134.72,196 L135.1,196.32 L135.46,196.63 L135.82,196.94 L136.16,197.25 L136.5,197.55 L136.83,197.85 L137.15,198.15 L137.47,198.45 L137.78,198.74 L138.08,199.03 L138.38,199.32 L138.68,199.61 L138.98,199.91 L139.28,200.21 L139.58,200.51 L139.88,200.82 L140.18,201.13 L140.48,201.44 L140.78,201.75 L141.08,202.07 L141.38,202.39 L141.68,202.72 L141.98,203.05 L142.28,203.38 L142.58,203.71 L142.88,204.05 L143.18,204.39 L143.48,204.73 L143.78,205.07 L144.08,205.42 L144.38,205.77 L144.68,206.12 L144.98,206.48 L145.28,206.84 L145.58,207.2 L145.88,207.56 L146.18,207.93 L146.48,208.3 L146.78,208.67 L147.08,209.04 L147.38,209.41 L147.68,209.79 L147.98,210.17 L148.28,210.54 L148.58,210.93 L148.88,211.31 L149.18,211.69 L149.48,212.08 L149.78,212.46 L150.08,212.85 L150.38,213.24 L150.68,213.63 L150.98,214.02 L151.28,214.41 L151.58,214.8 L151.88,215.2 L152.18,215.6 L152.48,216 L152.78,216.4 L153.08,216.8 L153.38,217.21 L153.68,217.62 L153.98,218.03 L154.28,218.45 L154.58,218.87 L154.88,219.3 L155.18,219.73 L155.48,220.16 L155.78,220.6 L156.08,221.05 L156.38,221.5 L156.68,221.95 L156.98,222.41 L157.28,222.88 L157.58,223.35 L157.88,223.83 L158.18,224.31 L158.48,224.79 L158.78,225.28 L159.08,225.77 L159.38,226.26 L159.68,226.75 L159.98,227.24 L160.28,227.73 L160.58,228.22 L160.88,228.71 L161.18,229.2 L161.48,229.68 L161.78,230.17 L162.08,230.65 L162.38,231.12 L162.68,231.59 L162.98,232.06 L163.28,232.52 L163.58,232.97 L163.88,233.42 L164.18,233.86 L164.48,234.29 L164.78,234.72 L165.08,235.13 L165.38,235.54 L165.68,235.93 L165.98,236.32 L166.28,236.69 L166.58,237.06 L166.88,237.41 L167.18,237.75 L167.48,238.08 L167.78,238.4 L168.08,238.71 L168.38,239.02 L168.68,239.31 L168.98,239.6 L169.28,239.88 L169.58,240.15 L169.88,240.41 L170.18,240.66 L170.48,240.91 L170.78,241.16 L171.08,241.39 L171.38,241.62 L171.68,241.85 L171.98,242.07 L172.28,242.28 L172.58,242.5 L172.88,242.7 L173.18,242.91 L173.48,243.1 L173.78,243.3 L174.08,243.49 L174.38,243.68 L174.68,243.86 L174.98,244.04 L175.28,244.22 L175.58,244.39 L175.88,244.56 L176.18,244.73 L176.48,244.89 L176.78,245.05 L177.08,245.21 L177.38,245.37 L177.68,245.52 L177.98,245.68 L178.28,245.83 L178.58,245.97 L178.88,246.12 L179.18,246.26 L179.48,246.41 L179.78,246.55 L180.08,246.68 L180.38,246.82 L180.68,246.96 L180.98,247.09 L181.28,247.23 L181.58,247.36 L181.88,247.5 L182.18,247.63 L182.48,247.76 L182.78,247.89 L183.08,248.02 L183.38,248.15 L183.68,248.28 L183.98,248.42 L184.28,248.55 L184.58,248.68 L184.88,248.81 L185.18,248.94 L185.48,249.07 L185.78,249.21 L186.08,249.34 L186.38,249.47 L186.68,249.61 L186.98,249.74 L187.28,249.88 L187.58,250.01 L187.88,250.15 L188.18,250.28 L188.48,250.42 L188.78,250.55 L189.08,250.69 L189.38,250.83 L189.68,250.96 L189.98,251.1 L190.28,251.24 L190.58,251.37 L190.88,251.51 L191.18,251.65 L191.48,251.79 L191.78,251.92 L192.08,252.06 L192.38,252.2 L192.68,252.34 L192.98,252.48 L193.28,252.62 L193.58,252.75 L193.88,252.89 L194.18,253.03 L194.48,253.17 L194.78,253.31 L195.08,253.45 L195.38,253.59 L195.68,253.73 L195.98,253.87 L196.28,254.01 L196.58,254.15 L196.88,254.29 L197.18,254.42 L197.48,254.56 L197.78,254.7 L198.08,254.84 L198.38,254.98 L198.68,255.12 L198.98,255.26 L199.28,255.4 L199.58,255.54 L199.88,255.68 L200.18,255.82 L200.48,255.95 L200.78,256.09 L201.08,256.23 L201.38,256.37 L201.68,256.51 L201.98,256.65 L202.28,256.78 L202.58,256.92 L202.88,257.06 L203.18,257.2 L203.48,257.33 L203.78,257.47 L204.08,257.61 L204.38,257.74 L204.68,257.88 L204.98,258.02 L205.28,258.15 L205.58,258.29 L205.88,258.42 L206.18,258.56 L206.48,258.69 L206.78,258.83 L207.08,258.96 L207.38,259.1 L207.68,259.23 L207.98,259.36 L208.28,259.5 L208.58,259.63 L208.88,259.76 L209.18,259.89 L209.48,260.03 L209.78,260.16 L210.08,260.29 L210.38,260.42 L210.68,260.55 L210.98,260.68 L211.28,260.81 L211.58,260.94 L211.88,261.06 L212.18,261.19 L212.48,261.32 L212.78,261.45 L213.08,261.57 L213.38,261.7 L213.68,261.83 L213.98,261.95 L214.28,262.08 L214.58,262.2 L214.88,262.32 L215.18,262.45 L215.48,262.57 L215.78,262.69 L216.08,262.81 L216.38,262.93 L216.68,263.05 L216.98,263.17 L217.28,263.29 L217.58,263.41 L217.88,263.53 L218.18,263.65 L218.48,263.77 L218.78,263.89 L219.08,264 L219.38,264.12 L219.68,264.24 L219.98,264.35 L220.28,264.47 L220.58,264.59 L220.88,264.7 L221.18,264.82 L221.48,264.93 L221.78,265.04 L222.08,265.16 L222.38,265.27 L222.68,265.39 L222.98,265.5 L223.28,265.61 L223.58,265.73 L223.88,265.84 L224.18,265.95 L224.48,266.06 L224.78,266.18 L225.08,266.29 L225.38,266.4 L225.68,266.51 L225.98,266.62 L226.28,266.73 L226.58,266.84 L226.88,266.96 L227.18,267.07 L227.48,267.18 L227.78,267.29 L228.08,267.4 L228.38,267.51 L228.68,267.62 L228.98,267.73 L229.28,267.84 L229.58,267.95 L229.88,268.06 L230.18,268.17 L230.48,268.28 L230.78,268.39 L231.08,268.5 L231.38,268.62 L231.68,268.73 L231.98,268.84 L232.28,268.95 L232.58,269.06 L232.88,269.17 L233.18,269.28 L233.48,269.39 L233.78,269.5 L234.08,269.61 L234.38,269.73 L234.68,269.84 L234.98,269.95 L235.28,270.06 L235.58,270.17 L235.88,270.28 L236.18,270.4 L236.48,270.51 L236.78,270.62 L237.08,270.74 L237.38,270.85 L237.68,270.96 L237.98,271.08 L238.28,271.19 L238.3,271.2" fill="none" stroke="#ff0000" stroke-width="2" stroke-linejoin="round" stroke-linecap="butt"/>
<path d="M188,249.2 L188.4,249.37 L188.8,249.54 L189.2,249.71 L189.6,249.88 L190,250.05 L190.4,250.23 L190.8,250.4 L191.2,250.5 L191.6,250.7 L192,250.87 L192.4,251.09 L192.8,251.26 L193.2,251.43 L193.6,251.61 L194,251.77 L194.4,251.91 L194.8,252.13 L195.2,252.26 L195.6,252.48 L196,252.61 L196.4,252.83 L196.8,252.92 L197.2,253.18 L197.6,253.35 L198,253.45 L198.4,253.7 L198.8,253.69 L199.2,253.77 L199.6,254.2 L200,254.01 L200.4,254.38 L200.8,254.65 L201.2,254.48 L201.6,255.09 L202,255.23 L202.4,255.42 L202.8,255.59 L203.2,255.6 L203.6,255.46 L204,256.09 L204.4,256.09 L204.8,256.06 L205.2,256.48 L205.6,256.71 L206,256.98 L206.4,257.1 L206.8,257.14 L207.2,257.42 L207.6,257.36 L208,257.82 L208.4,257.94 L208.8,257.84 L209.2,258.08 L209.6,258.18 L210,258.64 L210.4,258.79 L210.8,258.75 L211.2,259.13 L211.6,259.29 L212,259.23 L212.4,259.28 L212.8,259.46 L213.2,259.34 L213.6,260.08 L214,259.95 L214.4,259.79 L214.8,260.43 L215.2,260.02 L215.6,260.17 L216,260.7 L216.4,260.43 L216.8,260.98 L217.2,261.11 L217.6,261.16 L218,261.64 L218.4,261.76 L218.8,262.02 L219.2,261.65 L219.6,262.14 L220,262.23 L220.4,262.46 L220.8,262.5 L221.2,262.65 L221.6,262.92 L222,263.09 L222.4,263.13 L222.8,263.39 L223.2,263.22 L223.6,262.96 L224,263.42 L224.4,263.64 L224.8,263.72 L225.2,263.77 L225.6,264.37 L226,264.36 L226.4,264.68 L226.8,264.91 L227.2,264.89 L227.6,265.01 L228,265.26 L228.4,264.91 L228.8,265.41 L229.2,265.81 L229.6,265.91 L230,265.93 L230.4,265.86 L230.8,266.07 L231.2,266.47 L231.6,265.8 L232,265.61 L232.4,265.89 L232.8,266.25 L233.2,266.22 L233.6,267.11 L234,266.69 L234.4,267.4 L234.8,266.87 L235.2,266.89 L235.6,267.54 L236,266.86 L236.4,268.01 L236.8,268.09 L237.2,268.47 L237.6,268.89 L238,268.97 L238,272.91 L237.6,273.49 L237.2,273 L236.8,272.77 L236.4,272.8 L236,272.99 L235.6,272.87 L235.2,273.18 L234.8,272.09 L234.4,271.83 L234,271.73 L233.6,272.02 L233.2,271.62 L232.8,271.94 L232.4,271.81 L232,270.91 L231.6,271.34 L231.2,271.94 L230.8,270.96 L230.4,270.67 L230,270.76 L229.6,270.53 L229.2,270.11 L228.8,270.55 L228.4,269.78 L228,269.66 L227.6,270.03 L227.2,269.07 L226.8,269.87 L226.4,269.26 L226,268.74 L225.6,269.91 L225.2,268.81 L224.8,268.35 L224.4,268.62 L224,267.87 L223.6,267.73 L223.2,267.61 L222.8,267.35 L222.4,267.92 L222,267.37 L221.6,267.1 L221.2,266.74 L220.8,266.8 L220.4,266.61 L220,266.71 L219.6,266.24 L219.2,266.8 L218.8,265.75 L218.4,265.58 L218,265.39 L217.6,265.33 L217.2,265.42 L216.8,265.62 L216.4,264.88 L216,265.2 L215.6,264.57 L215.2,264.28 L214.8,264.35 L214.4,264.15 L214,264.41 L213.6,263.5 L213.2,263.47 L212.8,263.18 L212.4,263.69 L212,263.2 L211.6,262.71 L211.2,262.5 L210.8,262.35 L210.4,262.05 L210,262.26 L209.6,261.7 L209.2,261.67 L208.8,261.33 L208.4,261.12 L208,261.02 L207.6,260.82 L207.2,261.04 L206.8,260.84 L206.4,260.45 L206,259.98 L205.6,259.9 L205.2,259.6 L204.8,259.41 L204.4,259.44 L204,259.02 L203.6,258.85 L203.2,258.63 L202.8,258.44 L202.4,258.33 L202,258.07 L201.6,258.1 L201.2,257.72 L200.8,257.49 L200.4,257.27 L200,257.07 L199.6,256.87 L199.2,256.88 L198.8,256.48 L198.4,256.35 L198,256.29 L197.6,255.89 L197.2,255.85 L196.8,255.5 L196.4,255.3 L196,255.1 L195.6,254.91 L195.2,254.71 L194.8,254.51 L194.4,254.32 L194,254.16 L193.6,254.07 L193.2,253.81 L192.8,253.53 L192.4,253.34 L192,253.14 L191.6,252.94 L191.2,252.75 L190.8,252.55 L190.4,252.36 L190,252.17 L189.6,251.97 L189.2,251.78 L188.8,251.59 L188.4,251.39 L188,251.2Z" fill="#ff0000" stroke="none"/>
<path d="M85.7,187.6 L95.18,178.96 L100.73,176.63 L104.66,176.16 L107.72,176.46 L110.21,177.13 L112.32,177.99 L114.15,178.96 L115.76,179.96 L117.2,180.99 L118.5,182.01 L119.69,183.03 L120.79,184.03 L121.8,185.02 L122.75,185.98 L123.63,186.92 L124.46,187.83 L125.24,188.72 L125.98,189.58 L126.68,190.41 L127.35,191.22 L127.99,192 L128.59,192.75 L129.18,193.48 L129.74,194.18 L130.27,194.86 L130.79,195.52 L131.29,196.15 L131.77,196.77 L132.23,197.36 L132.68,197.94 L133.11,198.49 L133.53,199.03 L133.94,199.55 L134.34,200.05 L134.72,200.54 L135.1,201.01 L135.46,201.46 L135.82,201.9 L136.16,202.33 L136.5,202.73 L136.83,203.13 L137.15,203.51 L137.47,203.88 L137.78,204.23 L138.08,204.58 L138.37,204.91 L138.66,205.23 L138.94,205.54 L139.22,205.84 L139.49,206.13 L139.75,206.41 L140.01,206.68 L140.27,206.94 L140.52,207.2 L140.77,207.45 L141.02,207.71 L141.27,207.95 L141.52,208.2 L141.77,208.44 L142.02,208.69 L142.27,208.93 L142.52,209.17 L142.77,209.4 L143.02,209.64 L143.27,209.87 L143.52,210.1 L143.77,210.34 L144.02,210.57 L144.27,210.79 L144.52,211.02 L144.77,211.25 L145.02,211.48 L145.27,211.7 L145.52,211.93 L145.77,212.15 L146.02,212.37 L146.27,212.59 L146.52,212.81 L146.77,213.04 L147.02,213.25 L147.27,213.47 L147.52,213.69 L147.77,213.91 L148.02,214.13 L148.27,214.34 L148.52,214.56 L148.77,214.77 L149.02,214.99 L149.27,215.2 L149.52,215.42 L149.77,215.63 L150.02,215.84 L150.27,216.06 L150.52,216.27 L150.77,216.48 L151.02,216.69 L151.27,216.9 L151.52,217.11 L151.77,217.32 L152.02,217.53 L152.27,217.74 L152.52,217.95 L152.77,218.16 L153.02,218.37 L153.27,218.58 L153.52,218.79 L153.77,219 L154.02,219.21 L154.27,219.42 L154.52,219.62 L154.77,219.83 L155.02,220.04 L155.27,220.25 L155.52,220.46 L155.77,220.67 L156.02,220.88 L156.27,221.09 L156.52,221.3 L156.77,221.51 L157.02,221.72 L157.27,221.93 L157.52,222.14 L157.77,222.35 L158.02,222.56 L158.27,222.77 L158.52,222.98 L158.77,223.19 L159.02,223.4 L159.27,223.61 L159.52,223.82 L159.77,224.04 L160.02,224.25 L160.27,224.46 L160.52,224.67 L160.77,224.89 L161.02,225.1 L161.27,225.31 L161.52,225.52 L161.77,225.74 L162.02,225.95 L162.27,226.16 L162.52,226.38 L162.77,226.59 L163.02,226.81 L163.27,227.02 L163.52,227.24 L163.77,227.45 L164.02,227.67 L164.27,227.88 L164.52,228.1 L164.77,228.31 L165.02,228.53 L165.27,228.74 L165.52,228.96 L165.77,229.17 L166.02,229.39 L166.27,229.61 L166.52,229.82 L166.77,230.04 L167.02,230.26 L167.27,230.47 L167.52,230.69 L167.77,230.91 L168.02,231.13 L168.27,231.34 L168.52,231.56 L168.77,231.78 L169.02,232 L169.27,232.22 L169.52,232.44 L169.77,232.65 L170.02,232.87 L170.27,233.09 L170.52,233.31 L170.77,233.53 L171.02,233.75 L171.27,233.97 L171.52,234.19 L171.77,234.41 L172.02,234.63 L172.27,234.85 L172.52,235.07 L172.77,235.29 L173.02,235.51 L173.27,235.73 L173.52,235.95 L173.77,236.17 L174.02,236.39 L174.27,236.62 L174.52,236.84 L174.77,237.06 L175.02,237.28 L175.27,237.5 L175.52,237.72 L175.77,237.95 L176.02,238.17 L176.27,238.39 L176.52,238.61 L176.77,238.84 L177.02,239.06 L177.27,239.28 L177.52,239.51 L177.77,239.73 L178.02,239.95 L178.27,240.18 L178.52,240.4 L178.77,240.62 L179.02,240.85 L179.27,241.07 L179.52,241.3 L179.77,241.52 L180.02,241.74 L180.27,241.97 L180.52,242.19 L180.77,242.42 L181.02,242.64 L181.27,242.87 L181.52,243.09 L181.77,243.32 L182.02,243.54 L182.27,243.77 L182.52,243.99 L182.77,244.22 L183.02,244.45 L183.27,244.67 L183.52,244.9 L183.77,245.12 L184.02,245.35 L184.27,245.58 L184.52,245.8 L184.77,246.03 L185.02,246.26 L185.27,246.48 L185.52,246.71 L185.77,246.94 L186.02,247.17 L186.27,247.39 L186.52,247.62 L186.77,247.85 L187.02,248.08 L187.27,248.3 L187.52,248.53 L187.77,248.76 L188.02,248.99 L188.27,249.22 L188.52,249.44 L188.77,249.67 L189.02,249.9 L189.27,250.13 L189.52,250.36 L189.77,250.59 L190.02,250.81 L190.27,251.04 L190.52,251.27 L190.77,251.5 L191.02,251.73 L191.27,251.96 L191.52,252.19 L191.77,252.42 L192.02,252.65 L192.27,252.88 L192.52,253.11 L192.77,253.34 L193.02,253.57 L193.27,253.8 L193.52,254.03 L193.77,254.26 L194.02,254.49 L194.27,254.72 L194.52,254.95 L194.77,255.18 L195.02,255.41 L195.27,255.64 L195.52,255.87 L195.77,256.1 L196.02,256.33 L196.27,256.56 L196.52,256.8 L196.77,257.03 L197.02,257.26 L197.27,257.49 L197.52,257.72 L197.77,257.95 L198.02,258.18 L198.27,258.42 L198.52,258.65 L198.77,258.88 L199.02,259.11 L199.27,259.34 L199.52,259.57 L199.77,259.81 L200.02,260.04 L200.27,260.27 L200.52,260.5 L200.77,260.73 L201.02,260.97 L201.27,261.2 L201.52,261.43 L201.77,261.66 L202.02,261.9 L202.27,262.13 L202.52,262.36 L202.77,262.59 L203.02,262.83 L203.27,263.06 L203.52,263.29 L203.77,263.53 L204.02,263.76 L204.27,263.99 L204.52,264.23 L204.77,264.46 L205.02,264.69 L205.27,264.92 L205.52,265.16 L205.77,265.39 L206.02,265.62 L206.27,265.86 L206.52,266.09 L206.77,266.33 L207.02,266.56 L207.27,266.79 L207.52,267.03 L207.77,267.26 L208.02,267.49 L208.27,267.73 L208.52,267.96 L208.77,268.2 L209.02,268.43 L209.27,268.66 L209.52,268.9 L209.77,269.13 L210.02,269.37 L210.27,269.6 L210.52,269.83 L210.77,270.07 L211.02,270.3 L211.27,270.54 L211.52,270.77 L211.77,271 L212.02,271.24 L212.27,271.47 L212.52,271.71 L212.77,271.94 L213.02,272.18 L213.27,272.41 L213.52,272.65 L213.77,272.88 L214.02,273.11 L214.27,273.35 L214.52,273.58 L214.77,273.82 L215.02,274.05 L215.27,274.29 L215.52,274.52 L215.77,274.76 L216.02,274.99 L216.27,275.23 L216.52,275.46 L216.77,275.7 L217.02,275.93 L217.27,276.17 L217.52,276.4 L217.77,276.64 L218.02,276.87 L218.27,277.11 L218.52,277.34 L218.77,277.58 L219.02,277.81 L219.27,278.04 L219.52,278.28 L219.77,278.51 L220.02,278.75 L220.27,278.98 L220.52,279.22 L220.77,279.45 L221.02,279.69 L221.27,279.92 L221.52,280.16 L221.77,280.39 L222.02,280.63 L222.2,280.8" fill="none" stroke="#0000ff" stroke-width="2.1" stroke-linejoin="round" stroke-linecap="butt"/>
<path d="M166.4,229.8 L166.9,230.24 L167.4,230.68 L167.9,231.12 L168.4,231.57 L168.9,232.01 L169.4,232.45 L169.9,232.89 L170.4,233.33 L170.9,233.78 L171.4,234.22 L171.9,234.66 L172.4,235.1 L172.9,235.55 L173.4,235.99 L173.9,236.43 L174.4,236.88 L174.9,237.32 L175.4,237.77 L175.9,238.21 L176.4,238.65 L176.9,239.1 L177.4,239.54 L177.9,239.99 L178.4,240.43 L178.9,240.88 L179.4,241.33 L179.9,241.77 L180.4,242.22 L180.9,242.67 L181.4,243.11 L181.9,243.56 L182.4,244.01 L182.9,244.46 L183.4,244.9 L183.9,245.35 L184.4,245.8 L184.9,246.25 L185.4,246.7 L185.9,247.15 L186.4,247.6 L186.9,248.05 L187.4,248.5 L187.9,248.95 L188.4,249.4 L188.9,249.85 L189.4,250.3 L189.9,250.75 L190.4,251.21 L190.9,251.66 L191.4,252.11 L191.9,252.56 L192.4,253.02 L192.9,253.47 L193.4,253.93 L193.9,254.38 L194.4,254.84 L194.9,255.29 L195.4,255.75 L195.9,256.2 L196.4,256.66 L196.9,257.12 L197.4,257.57 L197.9,258.03 L198.4,258.49 L198.9,258.95 L199.4,259.41 L199.9,259.86 L200.4,260.32 L200.9,260.78 L201.4,261.24 L201.9,261.71 L202.4,262.17 L202.9,262.63 L203.4,263.09 L203.9,263.55 L204.4,264.01 L204.9,264.48 L205.4,264.94 L205.9,265.41 L206.4,265.87 L206.9,266.34 L207.4,266.8 L207.9,267.27 L208.4,267.73 L208.9,268.2 L209.4,268.67 L209.9,269.14 L210.4,269.6 L210.9,270.07 L211.4,270.54 L211.9,271.01 L212.4,271.48 L212.9,271.95 L213.4,272.42 L213.9,272.89 L214.4,273.37 L214.9,273.84 L215.4,274.31 L215.9,274.79 L216.4,275.26 L216.9,275.73 L217.4,276.21 L217.9,276.69 L218.4,277.16 L218.9,277.64 L219.4,278.12 L219.9,278.59 L220.4,279.07 L220.9,279.55 L221.4,280.03 L221.9,280.51 L222.2,280.8" fill="none" stroke="#0000ff" stroke-width="2.5" stroke-linejoin="round" stroke-linecap="butt"/>
<path d="M188,249.1 L188.5,249.55 L189,249.99 L189.5,250.44 L190,250.89 L190.5,251.34 L191,251.79 L191.5,252.24 L192,252.69 L192.5,253.14 L193,253.59 L193.5,254.05 L194,254.5 L194.5,254.95 L195,255.41 L195.5,255.86 L196,256.32 L196.5,256.77 L197,257.23 L197.5,257.68 L198,258.14 L198.5,258.6 L199,259.05 L199.5,259.51 L200,259.97 L200.5,260.43 L201,260.89 L201.5,261.35 L202,261.81 L202.5,262.27 L203,262.73 L203.5,263.19 L204,263.65 L204.5,264.12 L205,264.58 L205.5,265.04 L206,265.5 L206.5,265.97 L207,266.43 L207.5,266.9 L208,267.36 L208.5,267.83 L209,268.29 L209.5,268.76 L210,269.23 L210.5,269.69 L211,270.16 L211.5,270.63 L212,271.1 L212.5,271.57 L213,272.04 L213.5,272.51 L214,272.99 L214.5,273.46 L215,273.93 L215.5,274.4 L216,274.88 L216.5,275.35 L217,275.83 L217.5,276.3 L218,276.78 L218.5,277.26 L219,277.74 L219.5,278.21 L220,278.69 L220.5,279.17 L221,279.65 L221.5,280.13 L222,280.61 L222.2,280.8" fill="none" stroke="#0000ff" stroke-width="2.9" stroke-linejoin="round" stroke-linecap="butt"/>
<line x1="201.8" y1="269.3" x2="221.3" y2="287.2" stroke="#0000ff" stroke-width="2" stroke-dasharray="10.8,4.8"/>
<text x="175.9" y="281.3" font-size="15.2" fill="#0000ff">-0.5</text>
<rect x="158.7" y="178.4" width="72.7" height="41.9" fill="#fff" stroke="#000" stroke-width="1"/>
<line x1="165.3" y1="190.1" x2="186.7" y2="190.1" stroke="#ff0000" stroke-width="2" />
<line x1="165.3" y1="208.8" x2="186.7" y2="208.8" stroke="#0000ff" stroke-width="2.2" />
<text x="197.6" y="194.0" font-size="15.2">(6,3)</text>
<text x="197.6" y="212.6" font-size="15.2">(2,1)</text>
<text transform="translate(78.25,313.8) scale(0.933,1)" font-size="12.8">10<tspan font-size="8.6" dy="-7.3" dx="-0.3">0</tspan></text>
<text transform="translate(109.75,313.8) scale(0.933,1)" font-size="12.8">10<tspan font-size="8.6" dy="-7.3" dx="-0.3">1</tspan></text>
<text transform="translate(141.25,313.8) scale(0.933,1)" font-size="12.8">10<tspan font-size="8.6" dy="-7.3" dx="-0.3">2</tspan></text>
<text transform="translate(172.75,313.8) scale(0.933,1)" font-size="12.8">10<tspan font-size="8.6" dy="-7.3" dx="-0.3">3</tspan></text>
<text transform="translate(204.25,313.8) scale(0.933,1)" font-size="12.8">10<tspan font-size="8.6" dy="-7.3" dx="-0.3">4</tspan></text>
<text transform="translate(235.75,313.8) scale(0.933,1)" font-size="12.8">10<tspan font-size="8.6" dy="-7.3" dx="-0.3">5</tspan></text>
<text transform="translate(62.54,208) scale(0.933,1)" font-size="12.8">10<tspan font-size="8.6" dy="-7.3" dx="-0.3">-1</tspan></text>
<text transform="translate(62.54,269.3) scale(0.933,1)" font-size="12.8">10<tspan font-size="8.6" dy="-7.3" dx="-0.3">-2</tspan></text>
</svg>
</body></html>
